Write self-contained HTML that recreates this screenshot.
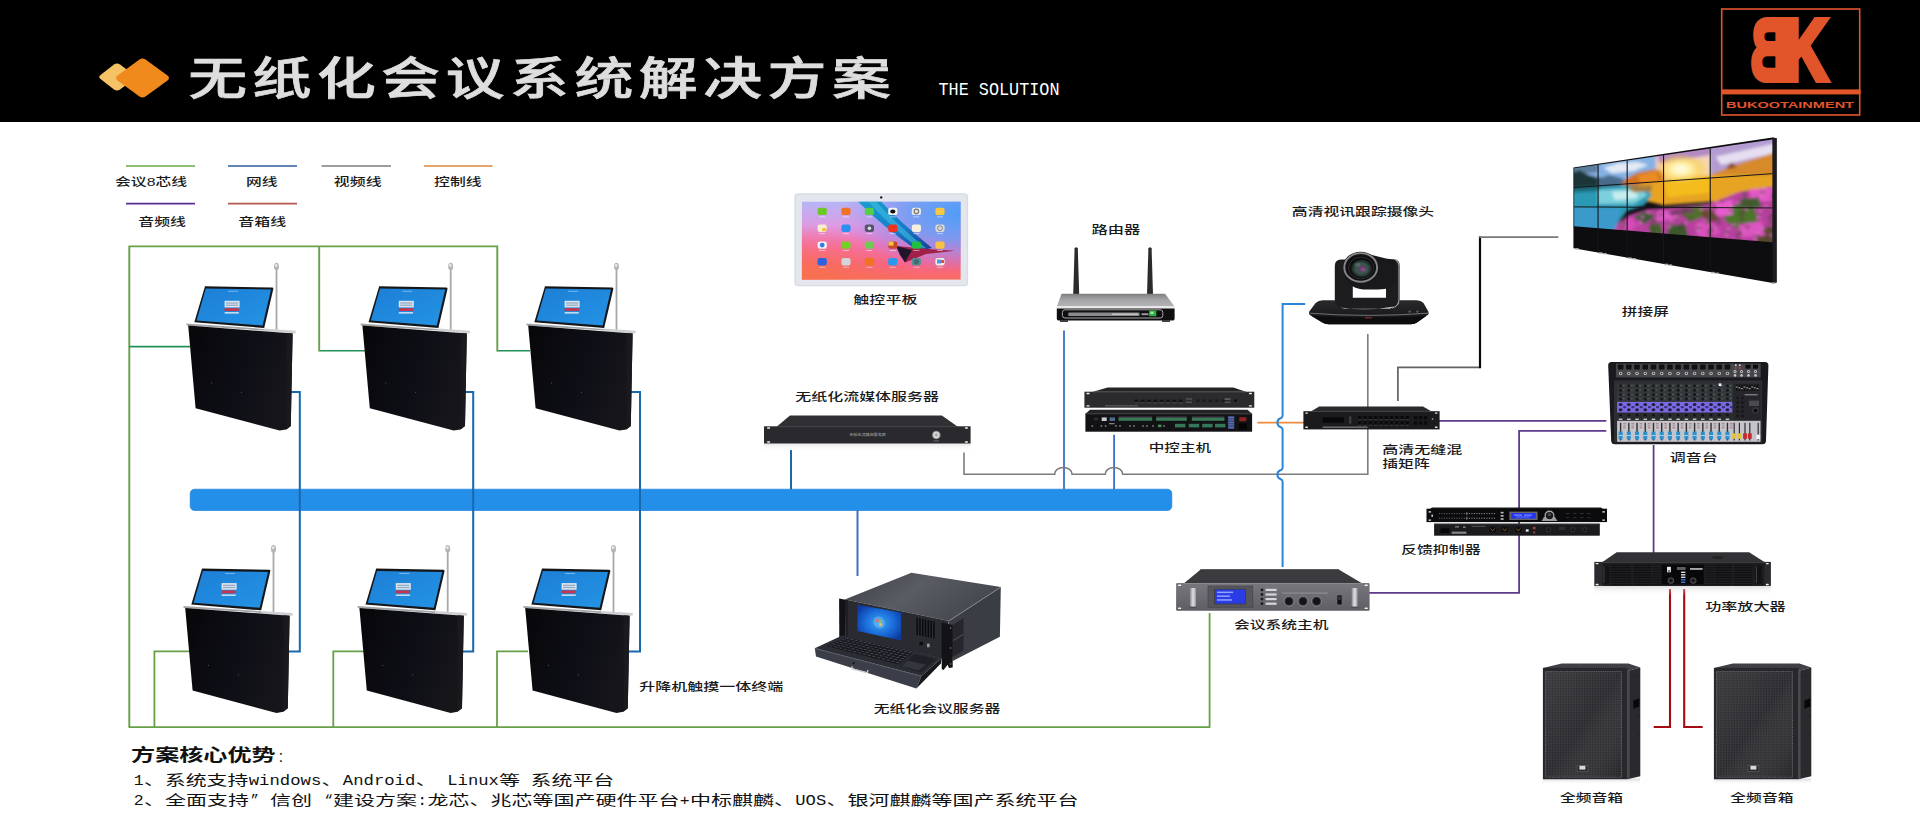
<!DOCTYPE html>
<html lang="zh-CN"><head><meta charset="utf-8"><title>无纸化会议系统解决方案</title>
<style>html,body{margin:0;padding:0;background:#fff}body{width:1920px;height:830px;overflow:hidden}svg{display:block}text{font-family:"Liberation Sans","Noto Sans CJK SC",sans-serif}</style></head><body>
<svg width="1920" height="830" viewBox="0 0 1920 830">
<defs><linearGradient id="tb" x1="0" y1="0" x2="1" y2="0.3"><stop offset="0" stop-color="#07070a"/><stop offset="0.6" stop-color="#0e0f16"/><stop offset="1" stop-color="#15151a"/></linearGradient><linearGradient id="ts" x1="0" y1="0" x2="1" y2="1"><stop offset="0" stop-color="#1c7fd6"/><stop offset="1" stop-color="#2493e4"/></linearGradient><g id="term"><rect x="275.6" y="268" width="1.8" height="62.5" fill="#a9a9a9"/><ellipse cx="276.5" cy="266.6" rx="2.5" ry="3.8" fill="#b4b4b4"/><ellipse cx="276.2" cy="265.4" rx="1.3" ry="1.6" fill="#e6e6e6"/><path d="M205 286.3L272.2 287.5Q273.6 287.6 273.3 289L264.2 328L194.3 322.3Z" fill="#14161a"/><polygon points="205.8,288.6 271,289.6 262.6,325.4 196.6,320.4" fill="url(#ts)"/><rect x="224.6" y="300.8" width="15" height="6.6" fill="#dfe6ee"/><rect x="226" y="302.4" width="12.2" height="1.2" fill="#8fa6c4"/><rect x="226" y="304.6" width="12.2" height="1.2" fill="#8fa6c4"/><rect x="224.6" y="308.2" width="14.2" height="2.8" fill="#c9354a"/><rect x="224.6" y="312.2" width="14.2" height="1.3" fill="#e8f0f8"/><rect x="228" y="290.8" width="10" height="0.9" fill="#7fbdf0"/><polygon points="186.4,323.6 264,328.9 264,330.6 186.6,325.6" fill="#a2a4a6"/><polygon points="264,328.6 295.8,330.8 295.6,333.4 264,331.2" fill="#cfd0d2"/><polygon points="188.2,325.6 292.6,333.4 290.8,426 286.3,429.4 279.5,430.6 195.6,408.2" fill="url(#tb)"/><polygon points="286.5,333 292.6,333.4 290.8,426 286.3,429.4" fill="#1a1a1e"/><circle cx="211.5" cy="383" r="0.6" fill="#555"/><circle cx="241.5" cy="392.5" r="0.6" fill="#555"/></g><linearGradient id="tbg" x1="0" y1="0" x2="0" y2="1"><stop offset="0" stop-color="#b4b6f6"/><stop offset="0.3" stop-color="#dc9ce4"/><stop offset="0.55" stop-color="#f472bc"/><stop offset="0.8" stop-color="#f8648a"/><stop offset="1" stop-color="#f76c5e"/></linearGradient><radialGradient id="tbr" cx="1" cy="0.15" r="0.75" gradientTransform="scale(1 1)"><stop offset="0" stop-color="#4f9cf6"/><stop offset="0.45" stop-color="#6c9cf4" stop-opacity="0.85"/><stop offset="1" stop-color="#9a8cf0" stop-opacity="0"/></radialGradient><radialGradient id="tbl" cx="0" cy="1" r="0.7"><stop offset="0" stop-color="#f8704c"/><stop offset="1" stop-color="#f8704c" stop-opacity="0"/></radialGradient><linearGradient id="tbrb" x1="0" y1="0" x2="1" y2="1"><stop offset="0" stop-color="#1aa0d0"/><stop offset="0.6" stop-color="#1878c8"/><stop offset="1" stop-color="#183a90"/></linearGradient><clipPath id="tcl"><rect x="801.7" y="201.4" width="159.1" height="78.4"/></clipPath><linearGradient id="rtop" x1="0" y1="0" x2="0" y2="1"><stop offset="0" stop-color="#7e7e80"/><stop offset="0.5" stop-color="#a6a6a8"/><stop offset="1" stop-color="#b4b4b6"/></linearGradient><linearGradient id="ssh" x1="0" y1="0" x2="0" y2="1"><stop offset="0" stop-color="#d4d4d6"/><stop offset="1" stop-color="#fff" stop-opacity="0"/></linearGradient><linearGradient id="cstop" x1="0" y1="0" x2="1" y2="0.4"><stop offset="0" stop-color="#3c3e44"/><stop offset="0.5" stop-color="#5a5c64"/><stop offset="1" stop-color="#45474e"/></linearGradient><radialGradient id="cssc" cx="0.5" cy="0.5" r="0.6"><stop offset="0" stop-color="#38a6f4"/><stop offset="0.6" stop-color="#1866d4"/><stop offset="1" stop-color="#0c3a9c"/></radialGradient><radialGradient id="lens" cx="0.5" cy="0.5" r="0.5"><stop offset="0" stop-color="#7a3a80"/><stop offset="0.3" stop-color="#4a4a5a"/><stop offset="0.55" stop-color="#34584a"/><stop offset="0.8" stop-color="#26302e"/><stop offset="1" stop-color="#0c0c0e"/></radialGradient><linearGradient id="cbase" x1="0" y1="0" x2="0" y2="1"><stop offset="0" stop-color="#2a2a2c"/><stop offset="1" stop-color="#111113"/></linearGradient><linearGradient id="hostf" x1="0" y1="0" x2="0" y2="1"><stop offset="0" stop-color="#77777d"/><stop offset="1" stop-color="#5e5e64"/></linearGradient><linearGradient id="hnd" x1="0" y1="0" x2="1" y2="0"><stop offset="0" stop-color="#8a8a90"/><stop offset="0.5" stop-color="#e0e0e4"/><stop offset="1" stop-color="#9a9aa0"/></linearGradient><linearGradient id="ash" x1="0" y1="0" x2="0" y2="1"><stop offset="0" stop-color="#c8c8cc"/><stop offset="1" stop-color="#fff" stop-opacity="0"/></linearGradient><pattern id="mesh" width="1.6" height="1.6" patternUnits="userSpaceOnUse"><rect width="1.6" height="1.6" fill="#37373b"/><rect width="0.8" height="0.8" fill="#232326"/></pattern><pattern id="grl" width="4" height="1.7" patternUnits="userSpaceOnUse"><rect width="4" height="1.7" fill="#0c0c0e"/><rect width="4" height="0.6" fill="#2a2a2e"/></pattern><filter id="bl" x="-5%" y="-10%" width="110%" height="120%"><feGaussianBlur stdDeviation="1.5"/></filter><pattern id="flw" width="29" height="22" patternUnits="userSpaceOnUse" patternTransform="rotate(8)"><ellipse cx="8.7" cy="3.0" rx="2.0" ry="0.9" fill="#f08adc"/><ellipse cx="2.5" cy="11.7" rx="2.4" ry="1.0" fill="#3c5a2c"/><ellipse cx="11.7" cy="1.4" rx="1.1" ry="1.2" fill="#a83a8c"/><ellipse cx="15.3" cy="18.9" rx="1.9" ry="1.4" fill="#3c5a2c"/><ellipse cx="15.6" cy="7.9" rx="2.5" ry="0.8" fill="#a83a8c"/><ellipse cx="3.6" cy="8.4" rx="1.8" ry="1.4" fill="#f08adc"/><ellipse cx="22.0" cy="3.6" rx="1.9" ry="1.4" fill="#5a3a3c"/><ellipse cx="2.6" cy="14.2" rx="1.8" ry="1.4" fill="#ee7ad8"/><ellipse cx="18.4" cy="8.6" rx="1.5" ry="1.4" fill="#ee7ad8"/><ellipse cx="9.8" cy="5.0" rx="1.3" ry="1.6" fill="#3c5a2c"/><ellipse cx="15.5" cy="10.5" rx="2.3" ry="1.5" fill="#5a3a3c"/><ellipse cx="16.4" cy="1.5" rx="1.8" ry="1.0" fill="#5a3a3c"/><ellipse cx="4.1" cy="9.8" rx="1.1" ry="1.5" fill="#a83a8c"/><ellipse cx="15.1" cy="15.8" rx="2.2" ry="1.1" fill="#5a3a3c"/><ellipse cx="16.0" cy="11.6" rx="1.7" ry="1.6" fill="#5a3a3c"/><ellipse cx="12.8" cy="13.3" rx="1.1" ry="1.5" fill="#2f4a2c"/></pattern><radialGradient id="sung"><stop offset="0" stop-color="#fffdf0"/><stop offset="0.35" stop-color="#fff3b0"/><stop offset="0.7" stop-color="#fbd560" stop-opacity="0.7"/><stop offset="1" stop-color="#f4bc1e" stop-opacity="0"/></radialGradient><clipPath id="vwc"><polygon points="1574.2,168.2 1772.4,139.4 1772.4,242.2 1574.2,226.2"/></clipPath><linearGradient id="spkg" x1="0" y1="0" x2="1" y2="1"><stop offset="0" stop-color="#fff" stop-opacity="0.07"/><stop offset="0.5" stop-color="#fff" stop-opacity="0"/><stop offset="1" stop-color="#000" stop-opacity="0.18"/></linearGradient><g id="spk"><rect x="1542.9" y="778.6" width="97" height="6" fill="url(#ash)" opacity="0.7"/><polygon points="1542.9,667.9 1561.8,663.5 1628.4,663.5 1640.3,667.5 1627.4,670.9" fill="#3f3f44"/><polygon points="1627.4,670.9 1640.3,667.5 1640.3,776.2 1627.4,779.2" fill="#2a2a2e"/><polygon points="1627.4,670.9 1629.6,670.3 1629.6,778.7 1627.4,779.2" fill="#4a4a50"/><polygon points="1633.4,700.6 1639.3,698.2 1639.3,706.4 1633.4,708.8" fill="#08080a"/><circle cx="1634.6" cy="676" r="0.6" fill="#111"/><circle cx="1638.6" cy="716" r="0.6" fill="#111"/><circle cx="1638.6" cy="734" r="0.6" fill="#111"/><circle cx="1634.6" cy="772" r="0.6" fill="#111"/><rect x="1542.9" y="667.9" width="84.5" height="111.3" fill="#28282c"/><rect x="1545.5" y="671.6" width="76" height="105.6" fill="url(#mesh)"/><rect x="1545.5" y="671.6" width="76" height="105.6" fill="url(#spkg)"/><rect x="1545.5" y="671.6" width="76" height="105.6" fill="none" stroke="#6e6e74" stroke-width="0.9" stroke-dasharray="1 0.8"/><rect x="1576.4" y="764.6" width="12.2" height="7.8" fill="#2a2a2e"/><rect x="1577" y="765.2" width="11" height="6.6" fill="none" stroke="#6a6a70" stroke-width="0.6"/><rect x="1579.4" y="765.8" width="6" height="3.8" fill="#d8d8dc"/></g></defs>
<rect x="0" y="0" width="1920" height="830" fill="#fff"/>
<rect x="0" y="0" width="1920" height="122" fill="#000"/>
<path d="M100.5 75 L114 64.5 Q117 62.5 120 64.5 L134 75 Q136.5 77 134 79 L120 89.5 Q117 91.5 114 89.5 L100.5 79 Q98 77 100.5 75Z" fill="#f6c266"/>
<path d="M117.5 75.5 L139.5 59.5 Q142.5 57.5 145.5 59.5 L167.5 75.5 Q170.5 78 167.5 80.5 L145.5 96.5 Q142.5 98.5 139.5 96.5 L117.5 80.5 Q114.5 78 117.5 75.5Z" fill="#f08a1c"/>
<text transform="translate(188.2 95.4) scale(1.29 1)" x="0" y="0" font-size="45.6" font-weight="500" fill="#dedede" stroke="#dedede" stroke-width="0.7" textLength="544.65" lengthAdjust="spacing">无纸化会议系统解决方案</text>
<text x="938.5" y="94.8" font-size="17.9" fill="#fff" style="font-family:'Liberation Mono',monospace" textLength="121" lengthAdjust="spacingAndGlyphs">THE SOLUTION</text>
<rect x="1721.7" y="9" width="138" height="106" fill="none" stroke="#e2552b" stroke-width="1.6"/>
<rect x="1721" y="89.4" width="139.5" height="5" fill="#e2552b"/>
<text x="1726" y="108.2" font-size="9.6" font-weight="700" fill="#e2552b" style="font-family:'Liberation Sans',sans-serif" textLength="128" lengthAdjust="spacingAndGlyphs">BUKOOTAINMENT</text>
<text transform="translate(1788 79.5) scale(-0.595 1)" x="0" y="0" style="font-family:'Liberation Sans',sans-serif" font-size="87.3" font-weight="700" fill="#e2552b" stroke="#e2552b" stroke-width="6" stroke-linejoin="miter">B</text>
<text transform="translate(1783.8 79.5) scale(0.70 1)" x="0" y="0" style="font-family:'Liberation Sans',sans-serif" font-size="87.3" font-weight="700" fill="#e2552b" stroke="#e2552b" stroke-width="6" stroke-linejoin="miter">K</text>
<path d="M126 166H195" fill="none" stroke="#68a84a" stroke-width="1.7"/>
<path d="M228 166H297" fill="none" stroke="#2c5c9c" stroke-width="1.7"/>
<path d="M321.5 166H391" fill="none" stroke="#7c7c7c" stroke-width="1.7"/>
<path d="M424 166H492.5" fill="none" stroke="#d9843c" stroke-width="1.7"/>
<path d="M126 203.6H195" fill="none" stroke="#5c2c92" stroke-width="1.7"/>
<path d="M228 203.6H297" fill="none" stroke="#b8584e" stroke-width="1.7"/>
<text x="115.07" y="185.8" font-size="11.4" font-weight="500" fill="#1a1a1a" textLength="71.96" lengthAdjust="spacingAndGlyphs">会议8芯线</text>
<text x="245.97" y="185.8" font-size="11.4" font-weight="500" fill="#1a1a1a" textLength="31.46" lengthAdjust="spacingAndGlyphs">网线</text>
<text x="333.86" y="185.8" font-size="11.4" font-weight="500" fill="#1a1a1a" textLength="47.77" lengthAdjust="spacingAndGlyphs">视频线</text>
<text x="434.07" y="185.8" font-size="11.4" font-weight="500" fill="#1a1a1a" textLength="47.57" lengthAdjust="spacingAndGlyphs">控制线</text>
<text x="138.37" y="225.8" font-size="11.4" font-weight="500" fill="#1a1a1a" textLength="47.57" lengthAdjust="spacingAndGlyphs">音频线</text>
<text x="238.36" y="225.8" font-size="11.4" font-weight="500" fill="#1a1a1a" textLength="47.77" lengthAdjust="spacingAndGlyphs">音箱线</text>
<path d="M497.3 350.7H530" fill="none" stroke="#229058" stroke-width="1.6"/>
<path d="M319.2 350.7H365" fill="none" stroke="#229058" stroke-width="1.6"/>
<path d="M129.3 727.2V246.4H497.3V351.4" fill="none" stroke="#68a048" stroke-width="1.9"/>
<path d="M319.2 246.4V351.4" fill="none" stroke="#68a048" stroke-width="1.9"/>
<path d="M129.3 346.6H190" fill="none" stroke="#229058" stroke-width="1.6"/>
<path d="M128.6 727.2H1209.6V613" fill="none" stroke="#68a048" stroke-width="1.8"/>
<path d="M190 651.4H154.4V727.2" fill="none" stroke="#68a048" stroke-width="1.8"/>
<path d="M365 651.4H333.3V727.2" fill="none" stroke="#68a048" stroke-width="1.8"/>
<path d="M528 651.4H497V727.2" fill="none" stroke="#68a048" stroke-width="1.8"/>
<rect x="190.2" y="489.2" width="981.6" height="21.3" rx="4.4" fill="#238fe8" stroke="#1c82d8" stroke-width="0.7"/>
<path d="M290 392H299.8V651.4H288" fill="none" stroke="#1868ae" stroke-width="2"/>
<path d="M464 392H473.2V651.4H462" fill="none" stroke="#1868ae" stroke-width="2"/>
<path d="M631 392H640V651.4H628" fill="none" stroke="#1868ae" stroke-width="2"/>
<path d="M791 450V489.5" fill="none" stroke="#1868ae" stroke-width="2"/>
<path d="M857.5 510V576" fill="none" stroke="#3a70c6" stroke-width="2"/>
<path d="M1064 330.5V489.5" fill="none" stroke="#3a70c6" stroke-width="1.8"/>
<path d="M1114.1 434.7V489.5" fill="none" stroke="#3a70c6" stroke-width="1.8"/>
<path d="M964 452.5V474.3H1054.6A8.75 6.8 0 0 1 1072.1 474.3H1105.2A8.75 6.8 0 0 1 1122.7 474.3H1367.8V334" fill="none" stroke="#7c7c7c" stroke-width="1.6"/>
<path d="M1397.9 401V367.4H1480.5" fill="none" stroke="#626262" stroke-width="1.7"/>
<path d="M1480 368.2V236.4" fill="none" stroke="#0a0a0a" stroke-width="2.2"/>
<path d="M1479.3 237.1H1558.3" fill="none" stroke="#777" stroke-width="1.6"/>
<path d="M1257.3 422.6H1304" fill="none" stroke="#ee8a3e" stroke-width="1.6"/>
<path d="M1305.2 303.9H1282.6V415.8Q1282.6 417.5 1280.5 418.3A4.6 4.6 0 0 0 1280.5 427Q1282.6 427.8 1282.6 429.5V467.8Q1282.6 469.5 1280.5 470.3A4.6 4.6 0 0 0 1280.5 479Q1282.6 479.8 1282.6 481.5V567" fill="none" stroke="#2a86da" stroke-width="2"/>
<path d="M1439 420.9H1606.3" fill="none" stroke="#5f3a8c" stroke-width="1.8"/>
<path d="M1606.3 430.8H1519.1V592.8H1369" fill="none" stroke="#5f3a8c" stroke-width="1.8"/>
<path d="M1653.6 445V553" fill="none" stroke="#5f3a8c" stroke-width="1.8"/>
<path d="M1670 589V727H1653.7" fill="none" stroke="#a40c12" stroke-width="2.1"/>
<path d="M1684.2 589V727H1702.7" fill="none" stroke="#a40c12" stroke-width="2.1"/>
<use href="#term" x="0" y="0"/>
<use href="#term" x="174.2" y="0"/>
<use href="#term" x="340" y="0"/>
<use href="#term" x="-3" y="282.3"/>
<use href="#term" x="171.2" y="282.3"/>
<use href="#term" x="337" y="282.3"/>
<rect x="794.4" y="193.3" width="173.8" height="93" rx="3.2" fill="#e3e7ed"/><rect x="795.2" y="194" width="172.2" height="91.6" rx="2.8" fill="none" stroke="#d2d7df" stroke-width="0.8"/><circle cx="881.2" cy="197.4" r="1.2" fill="#1a1a1a"/><g clip-path="url(#tcl)"><rect x="801.7" y="201.4" width="159.1" height="78.4" fill="url(#tbg)"/><rect x="801.7" y="201.4" width="159.1" height="78.4" fill="url(#tbr)"/><rect x="801.7" y="201.4" width="159.1" height="78.4" fill="url(#tbl)"/><path d="M858 201.4L881 201.4Q900 222 932 248L918 251Q882 226 858 201.4Z" fill="url(#tbrb)"/><path d="M868 201.4L876 201.4Q896 224 926 248L920 249.5Q890 226 868 201.4Z" fill="#3cc0e0" opacity="0.6"/><path d="M896 246L934 249.5L955 250.8L926 254L905 262.5L902 253Z" fill="#a02048"/><path d="M896 246L912 250L905 262.5L900 255Z" fill="#20152c"/><rect x="817.6" y="207.7" width="9.2" height="7.4" rx="2.2" fill="#6cc822"/><rect x="819.2" y="216.4" width="6" height="0.9" fill="#fff" opacity="0.55"/><rect x="841.4" y="207.7" width="9.2" height="7.4" rx="2.2" fill="#f07222"/><rect x="843" y="216.4" width="6" height="0.9" fill="#fff" opacity="0.55"/><rect x="864.8" y="207.7" width="9.2" height="7.4" rx="2.2" fill="#52d044"/><rect x="866.4" y="216.4" width="6" height="0.9" fill="#fff" opacity="0.55"/><rect x="888.2" y="207.7" width="9.2" height="7.4" rx="2.2" fill="#f4f4f6"/><rect x="889.8" y="216.4" width="6" height="0.9" fill="#fff" opacity="0.55"/><rect x="911.8" y="207.7" width="9.2" height="7.4" rx="2.2" fill="#e8e8ec"/><rect x="913.4" y="216.4" width="6" height="0.9" fill="#fff" opacity="0.55"/><rect x="935.4" y="207.7" width="9.2" height="7.4" rx="2.2" fill="#f8c840"/><rect x="937" y="216.4" width="6" height="0.9" fill="#fff" opacity="0.55"/><rect x="817.6" y="224.5" width="9.2" height="7.4" rx="2.2" fill="#f6ecd0"/><rect x="819.2" y="233.2" width="6" height="0.9" fill="#fff" opacity="0.55"/><rect x="841.4" y="224.5" width="9.2" height="7.4" rx="2.2" fill="#2a90f0"/><rect x="843" y="233.2" width="6" height="0.9" fill="#fff" opacity="0.55"/><rect x="864.8" y="224.5" width="9.2" height="7.4" rx="2.2" fill="#54546c"/><rect x="866.4" y="233.2" width="6" height="0.9" fill="#fff" opacity="0.55"/><rect x="888.2" y="224.5" width="9.2" height="7.4" rx="2.2" fill="#f0321e"/><rect x="889.8" y="233.2" width="6" height="0.9" fill="#fff" opacity="0.55"/><rect x="911.8" y="224.5" width="9.2" height="7.4" rx="2.2" fill="#f6f0e0"/><rect x="913.4" y="233.2" width="6" height="0.9" fill="#fff" opacity="0.55"/><rect x="935.4" y="224.5" width="9.2" height="7.4" rx="2.2" fill="#d8d8dc"/><rect x="937" y="233.2" width="6" height="0.9" fill="#fff" opacity="0.55"/><rect x="817.6" y="241.4" width="9.2" height="7.4" rx="2.2" fill="#eef2fa"/><rect x="819.2" y="250.1" width="6" height="0.9" fill="#fff" opacity="0.55"/><rect x="841.4" y="241.4" width="9.2" height="7.4" rx="2.2" fill="#72d222"/><rect x="843" y="250.1" width="6" height="0.9" fill="#fff" opacity="0.55"/><rect x="864.8" y="241.4" width="9.2" height="7.4" rx="2.2" fill="#6ccc50"/><rect x="866.4" y="250.1" width="6" height="0.9" fill="#fff" opacity="0.55"/><rect x="888.2" y="241.4" width="9.2" height="7.4" rx="2.2" fill="#c8482c"/><rect x="889.8" y="250.1" width="6" height="0.9" fill="#fff" opacity="0.55"/><rect x="911.8" y="241.4" width="9.2" height="7.4" rx="2.2" fill="#22c040"/><rect x="913.4" y="250.1" width="6" height="0.9" fill="#fff" opacity="0.55"/><rect x="935.4" y="241.4" width="9.2" height="7.4" rx="2.2" fill="#f8c244"/><rect x="937" y="250.1" width="6" height="0.9" fill="#fff" opacity="0.55"/><rect x="817.6" y="258.1" width="9.2" height="7.4" rx="2.2" fill="#2a62e0"/><rect x="819.2" y="266.8" width="6" height="0.9" fill="#fff" opacity="0.55"/><rect x="841.4" y="258.1" width="9.2" height="7.4" rx="2.2" fill="#d4d4d8"/><rect x="843" y="266.8" width="6" height="0.9" fill="#fff" opacity="0.55"/><rect x="864.8" y="258.1" width="9.2" height="7.4" rx="2.2" fill="#f0741e"/><rect x="866.4" y="266.8" width="6" height="0.9" fill="#fff" opacity="0.55"/><rect x="888.2" y="258.1" width="9.2" height="7.4" rx="2.2" fill="#2a98f0"/><rect x="889.8" y="266.8" width="6" height="0.9" fill="#fff" opacity="0.55"/><rect x="911.8" y="258.1" width="9.2" height="7.4" rx="2.2" fill="#5a8a92"/><rect x="913.4" y="266.8" width="6" height="0.9" fill="#fff" opacity="0.55"/><rect x="935.4" y="258.1" width="9.2" height="7.4" rx="2.2" fill="#eef0e8"/><rect x="937" y="266.8" width="6" height="0.9" fill="#fff" opacity="0.55"/><ellipse cx="892.8" cy="211.4" rx="2.6" ry="2" fill="#111"/><circle cx="916.4" cy="211.4" r="2.2" fill="none" stroke="#777" stroke-width="1.2"/><circle cx="869.4" cy="228.2" r="1.8" fill="#ddd"/><circle cx="940" cy="228.2" r="2.4" fill="none" stroke="#888" stroke-width="1"/><circle cx="822.2" cy="245.1" r="2.4" fill="#3a7ae8"/><rect x="822.2" y="228.2" width="4" height="3" fill="#f8c030"/><rect x="888.5" y="241.6" width="5" height="4" fill="#f0c848"/><circle cx="916.4" cy="261.8" r="2.6" fill="#3e6c74"/><rect x="937" y="259.5" width="4" height="4" fill="#4a9ae8"/><rect x="941" y="260" width="3" height="3" fill="#e84a3a"/></g>
<polygon points="1074.6,248.5 1077.8,248.5 1079.2,294.5 1073.2,294.5" fill="#2b2b2d"/><circle cx="1076.2" cy="248.8" r="1.6" fill="#2b2b2d"/><polygon points="1148.4,248.5 1151.6,248.5 1153,294.5 1147,294.5" fill="#2b2b2d"/><circle cx="1150" cy="248.8" r="1.6" fill="#2b2b2d"/><polygon points="1061.6,293.8 1165,293.8 1174.6,306.4 1056.8,306.4" fill="url(#rtop)"/><rect x="1056.8" y="306.2" width="117.8" height="2.4" fill="#e9e9ea"/><path d="M1056.8 308.4H1174.6V318.4Q1174.6 320.6 1172.4 320.6H1059Q1056.8 320.6 1056.8 318.4Z" fill="#0f0f11"/><rect x="1060" y="320.4" width="8" height="1.4" fill="#111"/><rect x="1162" y="320.4" width="8" height="1.4" fill="#111"/><rect x="1062.4" y="309.8" width="100.4" height="8.2" rx="2.6" fill="none" stroke="#b8b8b8" stroke-width="0.9"/><rect x="1068.2" y="312.6" width="71.5" height="3.3" rx="1.2" fill="#8a8a8c"/><rect x="1112" y="313.4" width="26" height="1.6" fill="#bdbdbd"/><rect x="1141.5" y="313.2" width="7" height="2" fill="#9a9a9a"/><rect x="1149.1" y="310.6" width="7.2" height="5.6" fill="#2fb044"/><rect x="1150.5" y="311.6" width="3" height="2.4" fill="#9af0a0"/>
<rect x="764" y="443.3" width="206.6" height="8.5" fill="url(#ssh)" opacity="0.55"/><polygon points="790,415.6 941.9,415.6 957.5,426.5 776.9,426.5" fill="#303034"/><rect x="764" y="426.3" width="206.6" height="17.2" fill="#2a2a2e"/><rect x="777" y="426.3" width="180.5" height="0.9" fill="#3e3e44"/><rect x="767" y="427.3" width="3.2" height="1.5" rx="0.7" fill="#f0f0f0"/><rect x="767" y="441.2" width="3.2" height="1.5" rx="0.7" fill="#f0f0f0"/><rect x="964.8" y="427.3" width="3.2" height="1.5" rx="0.7" fill="#f0f0f0"/><rect x="964.8" y="441.2" width="3.2" height="1.5" rx="0.7" fill="#f0f0f0"/><text x="849.24" y="436.36" font-size="3.6" font-weight="400" fill="#b4b4b8" textLength="36.52" lengthAdjust="spacingAndGlyphs">无纸化流媒体服务器</text><circle cx="936.3" cy="435" r="4.3" fill="#8e8e90"/><circle cx="936.3" cy="435" r="3.2" fill="#d8d8da"/><circle cx="936.3" cy="435" r="1.4" fill="#a4a4a8"/><rect x="933.5" y="440.5" width="5.6" height="0.8" fill="#777"/>
<polygon points="1107.7,387.4 1233.3,387.4 1246,391.8 1093,391.8" fill="#242426"/><rect x="1084.4" y="391.7" width="169.9" height="16" fill="#2b2b2d"/><rect x="1093" y="391.7" width="153" height="0.8" fill="#48484c"/><rect x="1086.4" y="392.8" width="3.2" height="1.4" rx="0.7" fill="#f2f2f2"/><rect x="1086.4" y="405.2" width="3.2" height="1.4" rx="0.7" fill="#f2f2f2"/><rect x="1248.8" y="392.8" width="3.2" height="1.4" rx="0.7" fill="#f2f2f2"/><rect x="1248.8" y="405.2" width="3.2" height="1.4" rx="0.7" fill="#f2f2f2"/><rect x="1134.4" y="399.6" width="4.2" height="2.2" fill="#121214"/><rect x="1134.4" y="402.6" width="4.2" height="0.8" fill="#4c4c50"/><rect x="1140.7" y="399.6" width="4.2" height="2.2" fill="#121214"/><rect x="1140.7" y="402.6" width="4.2" height="0.8" fill="#4c4c50"/><rect x="1147" y="399.6" width="4.2" height="2.2" fill="#121214"/><rect x="1147" y="402.6" width="4.2" height="0.8" fill="#4c4c50"/><rect x="1153.3" y="399.6" width="4.2" height="2.2" fill="#121214"/><rect x="1153.3" y="402.6" width="4.2" height="0.8" fill="#4c4c50"/><rect x="1159.6" y="399.6" width="4.2" height="2.2" fill="#121214"/><rect x="1159.6" y="402.6" width="4.2" height="0.8" fill="#4c4c50"/><rect x="1165.9" y="399.6" width="4.2" height="2.2" fill="#121214"/><rect x="1165.9" y="402.6" width="4.2" height="0.8" fill="#4c4c50"/><rect x="1172.2" y="399.6" width="4.2" height="2.2" fill="#121214"/><rect x="1172.2" y="402.6" width="4.2" height="0.8" fill="#4c4c50"/><rect x="1178.5" y="399.6" width="4.2" height="2.2" fill="#121214"/><rect x="1178.5" y="402.6" width="4.2" height="0.8" fill="#4c4c50"/><rect x="1186" y="398.4" width="6" height="1.2" fill="#5a5a5e"/><rect x="1186" y="401.6" width="6" height="1.2" fill="#5a5a5e"/><rect x="1196" y="399.6" width="3.6" height="2.2" fill="#1a1a1c"/><rect x="1202.4" y="399.6" width="3.6" height="2.2" fill="#1a1a1c"/><rect x="1208.8" y="399.6" width="3.6" height="2.2" fill="#1a1a1c"/><rect x="1215.2" y="399.6" width="3.6" height="2.2" fill="#1a1a1c"/><rect x="1221.6" y="399.6" width="3.6" height="2.2" fill="#1a1a1c"/><rect x="1224.5" y="398.4" width="6" height="1.4" fill="#6a6a6e"/><rect x="1224.5" y="401.6" width="6" height="1.4" fill="#555"/><circle cx="1235.5" cy="400.6" r="1.4" fill="#0a0a0a"/><rect x="1105" y="405.4" width="33" height="0.9" fill="#6a6a6e"/><polygon points="1090,409.7 1247.5,409.7 1252.1,413.8 1085.4,413.8" fill="#232325"/><rect x="1085.4" y="413.6" width="166.7" height="18.1" fill="#121214"/><rect x="1085.4" y="413.6" width="166.7" height="0.8" fill="#3a3a3e"/><rect x="1118.5" y="416.6" width="33.7" height="1.2" fill="#50505a"/><rect x="1118.5" y="418" width="33.7" height="2.8" fill="#367a56"/><rect x="1156.1" y="416.6" width="30.7" height="1.2" fill="#50505a"/><rect x="1156.1" y="418" width="30.7" height="2.8" fill="#367a56"/><rect x="1191.8" y="416.6" width="32.6" height="1.2" fill="#50505a"/><rect x="1191.8" y="418" width="32.6" height="2.8" fill="#367a56"/><rect x="1175" y="423.8" width="10.4" height="3.6" fill="#34785a"/><rect x="1188.8" y="423.8" width="10.4" height="3.6" fill="#34785a"/><rect x="1202.2" y="423.8" width="10.4" height="3.6" fill="#34785a"/><rect x="1215" y="423.8" width="10.4" height="3.6" fill="#34785a"/><rect x="1158" y="424.6" width="3.4" height="2.6" fill="#2f9a4c"/><rect x="1227.9" y="416" width="6.4" height="13" fill="#3c4c84"/><rect x="1228.6" y="417" width="5" height="0.8" fill="#6c7cb4"/><rect x="1228.6" y="419.5" width="5" height="0.8" fill="#6c7cb4"/><rect x="1228.6" y="422" width="5" height="0.8" fill="#6c7cb4"/><rect x="1228.6" y="424.5" width="5" height="0.8" fill="#6c7cb4"/><rect x="1228.6" y="427" width="5" height="0.8" fill="#6c7cb4"/><rect x="1239.3" y="417.1" width="7" height="4.2" fill="#8c2222"/><rect x="1239" y="423.4" width="8" height="6" fill="#050506"/><rect x="1101.7" y="417.4" width="5" height="3.6" fill="#c8ccd0"/><rect x="1109.6" y="417.4" width="5.4" height="3.6" fill="#4c6c8c"/><rect x="1094" y="417.8" width="4" height="2.6" fill="#2c2c30"/><circle cx="1092.3" cy="426" r="0.9" fill="#7a7a80"/><circle cx="1101.4" cy="426" r="0.9" fill="#7a7a80"/><circle cx="1105.6" cy="426" r="0.9" fill="#7a7a80"/><circle cx="1116" cy="426" r="0.9" fill="#7a7a80"/><circle cx="1120" cy="426" r="0.9" fill="#7a7a80"/><circle cx="1130" cy="426" r="0.9" fill="#7a7a80"/><circle cx="1134" cy="426" r="0.9" fill="#7a7a80"/><circle cx="1143" cy="426" r="0.9" fill="#7a7a80"/><circle cx="1147" cy="426" r="0.9" fill="#7a7a80"/><circle cx="1153" cy="426" r="0.9" fill="#7a7a80"/><circle cx="1160" cy="426" r="0.9" fill="#7a7a80"/><circle cx="1164" cy="426" r="0.9" fill="#7a7a80"/><rect x="1109" y="423.2" width="5.6" height="1" fill="#9a9aa0"/>
<polygon points="948.5,621.1 1000.8,587 999.9,636.8 952.7,661" fill="#3b3d44"/><polygon points="952.7,625 963.5,618 963.5,650.5 952.7,657" fill="#26272c"/><polygon points="952.7,640 963.5,633.5 963.5,635 952.7,641.5" fill="#44464e"/><polygon points="844.7,599.6 911.4,572.7 1000.8,587 948.5,621.1" fill="url(#cstop)"/><path d="M844.7 599.8L948.5 621.3L1000.8 587.2" fill="none" stroke="#8a8c94" stroke-width="0.8"/><polygon points="844.7,599.6 948.5,621.1 948.5,660 845.6,637" fill="#292b31"/><polygon points="839.1,598.6 845.4,599.8 845.6,638.6 839.3,637" fill="#121216"/><polygon points="845.4,599.8 848,600.4 848,636 845.6,637" fill="#1e1f24"/><polygon points="857.4,604.7 901.2,612.6 901.2,640.6 857.4,630.9" fill="url(#cssc)"/><g transform="translate(879 622.6) skewY(10)"><rect x="-3" y="-3" width="2.7" height="2.7" fill="#f25022"/><rect x="0.3" y="-3" width="2.7" height="2.7" fill="#7fba00"/><rect x="-3" y="0.3" width="2.7" height="2.7" fill="#2aa4f0"/><rect x="0.3" y="0.3" width="2.7" height="2.7" fill="#ffb900"/><circle cx="0" cy="0" r="6" fill="#bfe4ff" opacity="0.25"/></g><polygon points="916.4,617.6 917.9,617.9 917.9,635.2 916.4,634.9" fill="#0b0b0d"/><polygon points="919.2,618.18 920.7,618.48 920.7,635.78 919.2,635.48" fill="#0b0b0d"/><polygon points="922,618.76 923.5,619.06 923.5,636.36 922,636.06" fill="#0b0b0d"/><polygon points="924.8,619.34 926.3,619.64 926.3,636.94 924.8,636.64" fill="#0b0b0d"/><polygon points="927.6,619.92 929.1,620.22 929.1,637.52 927.6,637.22" fill="#0b0b0d"/><polygon points="930.4,620.5 931.9,620.8 931.9,638.1 930.4,637.8" fill="#0b0b0d"/><polygon points="933.2,621.08 934.7,621.38 934.7,638.68 933.2,638.38" fill="#0b0b0d"/><rect x="919.5" y="641.8" width="3.4" height="3.4" fill="#0c0c0e"/><rect x="927" y="643.6" width="2.6" height="3.6" fill="#9a9aa0"/><polygon points="941.7,622.6 952.7,625 952.7,667.4 949,668 947.6,664.8 943.6,670 941.7,669" fill="#131317"/><circle cx="950.6" cy="628" r="0.7" fill="#888"/><circle cx="950.6" cy="648" r="0.7" fill="#888"/><circle cx="950.6" cy="664" r="0.7" fill="#888"/><polygon points="814.8,648.2 842.2,635.6 941.7,657.9 921.5,676.1" fill="#2b2d35"/><polygon points="826.5,646 846.5,637.4 913,652.4 899,664.4" fill="#15161a"/><polygon points="846.63,637.69 849.74,638.4 848.1,639.13 844.97,638.41" fill="#41434c"/><polygon points="851.07,638.7 854.18,639.4 852.58,640.15 849.44,639.43" fill="#41434c"/><polygon points="855.52,639.7 858.62,640.4 857.05,641.17 853.92,640.46" fill="#41434c"/><polygon points="859.96,640.71 863.07,641.41 861.53,642.2 858.39,641.48" fill="#41434c"/><polygon points="864.4,641.71 867.51,642.41 866,643.22 862.87,642.51" fill="#41434c"/><polygon points="868.84,642.72 871.95,643.42 870.48,644.24 867.34,643.53" fill="#41434c"/><polygon points="873.28,643.72 876.39,644.42 874.95,645.27 871.82,644.55" fill="#41434c"/><polygon points="877.72,644.72 880.83,645.43 879.43,646.29 876.29,645.58" fill="#41434c"/><polygon points="882.16,645.73 885.27,646.43 883.9,647.32 880.77,646.6" fill="#41434c"/><polygon points="886.6,646.73 889.71,647.44 888.37,648.34 885.24,647.62" fill="#41434c"/><polygon points="891.05,647.74 894.16,648.44 892.85,649.36 889.72,648.65" fill="#41434c"/><polygon points="895.49,648.74 898.6,649.45 897.32,650.39 894.19,649.67" fill="#41434c"/><polygon points="899.93,649.75 903.04,650.45 901.8,651.41 898.67,650.69" fill="#41434c"/><polygon points="904.37,650.75 907.48,651.45 906.27,652.43 903.14,651.72" fill="#41434c"/><polygon points="908.81,651.76 911.92,652.46 910.75,653.46 907.62,652.74" fill="#41434c"/><polygon points="843.31,639.13 846.46,639.86 844.82,640.59 841.64,639.85" fill="#41434c"/><polygon points="847.82,640.17 850.97,640.9 849.37,641.65 846.19,640.91" fill="#41434c"/><polygon points="852.32,641.22 855.48,641.94 853.91,642.71 850.73,641.97" fill="#41434c"/><polygon points="856.83,642.26 859.99,642.99 858.45,643.78 855.27,643.03" fill="#41434c"/><polygon points="861.34,643.3 864.5,644.03 862.99,644.84 859.81,644.09" fill="#41434c"/><polygon points="865.85,644.34 869,645.07 867.53,645.9 864.35,645.16" fill="#41434c"/><polygon points="870.36,645.38 873.51,646.11 872.07,646.96 868.89,646.22" fill="#41434c"/><polygon points="874.86,646.43 878.02,647.16 876.61,648.02 873.43,647.28" fill="#41434c"/><polygon points="879.37,647.47 882.53,648.2 881.15,649.08 877.98,648.34" fill="#41434c"/><polygon points="883.88,648.51 887.04,649.24 885.7,650.14 882.52,649.4" fill="#41434c"/><polygon points="888.39,649.55 891.54,650.28 890.24,651.2 887.06,650.46" fill="#41434c"/><polygon points="892.9,650.6 896.05,651.33 894.78,652.27 891.6,651.52" fill="#41434c"/><polygon points="897.4,651.64 900.56,652.37 899.32,653.33 896.14,652.58" fill="#41434c"/><polygon points="901.91,652.68 905.07,653.41 903.86,654.39 900.68,653.64" fill="#41434c"/><polygon points="906.42,653.72 909.58,654.45 908.4,655.45 905.22,654.71" fill="#41434c"/><polygon points="839.98,640.57 843.18,641.32 841.55,642.06 838.32,641.29" fill="#41434c"/><polygon points="844.56,641.65 847.76,642.4 846.15,643.16 842.93,642.39" fill="#41434c"/><polygon points="849.13,642.73 852.33,643.48 850.76,644.25 847.54,643.49" fill="#41434c"/><polygon points="853.71,643.81 856.91,644.56 855.37,645.35 852.14,644.58" fill="#41434c"/><polygon points="858.28,644.89 861.48,645.64 859.98,646.45 856.75,645.68" fill="#41434c"/><polygon points="862.86,645.97 866.06,646.72 864.59,647.55 861.36,646.78" fill="#41434c"/><polygon points="867.43,647.05 870.63,647.8 869.19,648.65 865.97,647.88" fill="#41434c"/><polygon points="872,648.13 875.21,648.88 873.8,649.75 870.58,648.98" fill="#41434c"/><polygon points="876.58,649.21 879.78,649.97 878.41,650.85 875.18,650.08" fill="#41434c"/><polygon points="881.15,650.29 884.36,651.05 883.02,651.95 879.79,651.18" fill="#41434c"/><polygon points="885.73,651.37 888.93,652.13 887.63,653.05 884.4,652.28" fill="#41434c"/><polygon points="890.3,652.45 893.51,653.21 892.23,654.15 889.01,653.38" fill="#41434c"/><polygon points="894.88,653.53 898.08,654.29 896.84,655.24 893.62,654.47" fill="#41434c"/><polygon points="899.45,654.61 902.66,655.37 901.45,656.34 898.22,655.57" fill="#41434c"/><polygon points="904.03,655.69 907.23,656.45 906.06,657.44 902.83,656.67" fill="#41434c"/><polygon points="836.66,642.01 839.91,642.79 838.27,643.52 834.99,642.73" fill="#41434c"/><polygon points="841.3,643.12 844.55,643.91 842.94,644.66 839.67,643.86" fill="#41434c"/><polygon points="845.94,644.24 849.19,645.02 847.62,645.79 844.34,645" fill="#41434c"/><polygon points="850.58,645.36 853.83,646.14 852.29,646.93 849.02,646.14" fill="#41434c"/><polygon points="855.22,646.48 858.47,647.26 856.97,648.07 853.69,647.27" fill="#41434c"/><polygon points="859.86,647.6 863.11,648.38 861.64,649.2 858.37,648.41" fill="#41434c"/><polygon points="864.5,648.71 867.75,649.5 866.31,650.34 863.04,649.55" fill="#41434c"/><polygon points="869.15,649.83 872.4,650.61 870.99,651.48 867.72,650.68" fill="#41434c"/><polygon points="873.79,650.95 877.04,651.73 875.66,652.61 872.39,651.82" fill="#41434c"/><polygon points="878.43,652.07 881.68,652.85 880.34,653.75 877.07,652.96" fill="#41434c"/><polygon points="883.07,653.18 886.32,653.97 885.01,654.89 881.74,654.09" fill="#41434c"/><polygon points="887.71,654.3 890.96,655.09 889.69,656.03 886.42,655.23" fill="#41434c"/><polygon points="892.35,655.42 895.6,656.2 894.36,657.16 891.09,656.37" fill="#41434c"/><polygon points="896.99,656.54 900.24,657.32 899.04,658.3 895.76,657.5" fill="#41434c"/><polygon points="901.64,657.66 904.88,658.44 903.71,659.44 900.44,658.64" fill="#41434c"/><polygon points="833.33,643.44 836.63,644.25 834.99,644.99 831.67,644.16" fill="#41434c"/><polygon points="838.04,644.6 841.34,645.41 839.73,646.16 836.41,645.34" fill="#41434c"/><polygon points="842.75,645.76 846.04,646.56 844.47,647.33 841.15,646.51" fill="#41434c"/><polygon points="847.46,646.91 850.75,647.72 849.21,648.51 845.89,647.69" fill="#41434c"/><polygon points="852.16,648.07 855.46,648.88 853.95,649.68 850.63,648.86" fill="#41434c"/><polygon points="856.87,649.22 860.17,650.03 858.69,650.86 855.38,650.04" fill="#41434c"/><polygon points="861.58,650.38 864.88,651.19 863.44,652.03 860.12,651.21" fill="#41434c"/><polygon points="866.29,651.53 869.58,652.34 868.18,653.21 864.86,652.38" fill="#41434c"/><polygon points="871,652.69 874.29,653.5 872.92,654.38 869.6,653.56" fill="#41434c"/><polygon points="875.7,653.84 879,654.65 877.66,655.56 874.34,654.73" fill="#41434c"/><polygon points="880.41,655 883.71,655.81 882.4,656.73 879.08,655.91" fill="#41434c"/><polygon points="885.12,656.16 888.42,656.97 887.14,657.9 883.82,657.08" fill="#41434c"/><polygon points="889.83,657.31 893.12,658.12 891.88,659.08 888.56,658.26" fill="#41434c"/><polygon points="894.54,658.47 897.83,659.28 896.63,660.25 893.31,659.43" fill="#41434c"/><polygon points="899.24,659.62 902.54,660.43 901.37,661.43 898.05,660.61" fill="#41434c"/><polygon points="830.01,644.88 833.35,645.72 831.71,646.45 828.34,645.6" fill="#41434c"/><polygon points="834.78,646.08 838.12,646.91 836.52,647.66 833.15,646.81" fill="#41434c"/><polygon points="839.56,647.27 842.9,648.1 841.33,648.87 837.96,648.03" fill="#41434c"/><polygon points="844.33,648.46 847.67,649.3 846.13,650.09 842.77,649.24" fill="#41434c"/><polygon points="849.1,649.66 852.45,650.49 850.94,651.3 847.58,650.45" fill="#41434c"/><polygon points="853.88,650.85 857.22,651.68 855.75,652.51 852.38,651.66" fill="#41434c"/><polygon points="858.65,652.04 862,652.88 860.56,653.72 857.19,652.87" fill="#41434c"/><polygon points="863.43,653.24 866.77,654.07 865.37,654.94 862,654.09" fill="#41434c"/><polygon points="868.2,654.43 871.55,655.26 870.17,656.15 866.81,655.3" fill="#41434c"/><polygon points="872.98,655.62 876.32,656.46 874.98,657.36 871.62,656.51" fill="#41434c"/><polygon points="877.75,656.82 881.1,657.65 879.79,658.57 876.42,657.72" fill="#41434c"/><polygon points="882.53,658.01 885.87,658.84 884.6,659.78 881.23,658.94" fill="#41434c"/><polygon points="887.3,659.2 890.64,660.04 889.41,661 886.04,660.15" fill="#41434c"/><polygon points="892.08,660.4 895.42,661.23 894.21,662.21 890.85,661.36" fill="#41434c"/><polygon points="896.85,661.59 900.19,662.43 899.02,663.42 895.66,662.57" fill="#41434c"/><polygon points="914.5,654 936.5,659 920.5,672.5 900.5,666" fill="#202127"/><polygon points="908,660.5 926,664.8 918.5,670.6 901.5,666" fill="#34363e"/><polygon points="814.8,648.2 921.5,676.1 916.4,688.4 816,656.4" fill="#3b3e49"/><path d="M814.8 648.4L921.5 676.3" fill="none" stroke="#5a5d6a" stroke-width="0.8"/><polygon points="921.5,676.1 941.7,657.9 940.9,663.4 916.4,688.4" fill="#17181c"/><path d="M852 666.2L852.4 669L867.4 672.6L868 669.8" fill="none" stroke="#c4c6cc" stroke-width="1.3"/><circle cx="853.6" cy="663.2" r="1.1" fill="#16161a"/>
<path d="M1322.7 300.2H1416.7Q1421 300.4 1423.5 303L1428.3 311.5Q1429.6 314.6 1426.5 315.8L1417 322.6Q1414.6 324.3 1411 324.3H1328.4Q1324.8 324.3 1322.4 322.6L1311.2 315.8Q1308 314.6 1309.3 311.5L1315.6 303Q1318.5 300.4 1322.7 300.2Z" fill="url(#cbase)"/><path d="M1309.6 313.2Q1368 317.6 1428 313.2" fill="none" stroke="#7c7c80" stroke-width="0.9"/><path d="M1311.2 315.8L1322.4 322.6Q1324.8 324.3 1328.4 324.3H1411Q1414.6 324.3 1417 322.6L1426.5 315.8Q1368 319.6 1311.2 315.8Z" fill="#0d0d0f"/><rect x="1365" y="317.2" width="7" height="1.2" fill="#8c2a34"/><circle cx="1409.6" cy="311.6" r="1.2" fill="#5c5c62"/><circle cx="1417.4" cy="311.6" r="1.2" fill="#5c5c62"/><path d="M1334.8 266Q1334.8 259.5 1341 259.5H1352.8V297.8H1386V262Q1386 259.3 1389 259.3H1393.5Q1399.8 259.5 1399.8 266V299Q1399.8 308.7 1390 308.7H1344.6Q1334.8 308.7 1334.8 299Z" fill="#1d1d20"/><path d="M1395.6 260Q1399 262 1399 267V299Q1399 306.5 1392 308" fill="none" stroke="#a4a4a8" stroke-width="1.1"/><path d="M1340 307.4Q1368 311.6 1394 306.6L1390 308.7H1344.6Z" fill="#c4c4c8"/><path d="M1345 262Q1347 252.5 1362 252.5L1386 258.6Q1394 259.4 1396 262V282Q1392 289.6 1378 289.6H1363Q1346 287 1345 275Z" fill="#19191b"/><ellipse cx="1360.7" cy="267.4" rx="17.8" ry="15.6" fill="#141416"/><ellipse cx="1360.7" cy="267.4" rx="16.4" ry="14.3" fill="none" stroke="#87878b" stroke-width="1.9"/><ellipse cx="1361.2" cy="268" rx="14" ry="12.2" fill="#0c0c0e"/><ellipse cx="1361.2" cy="268" rx="12.6" ry="10.9" fill="none" stroke="#3a3a3e" stroke-width="0.8"/><ellipse cx="1361.6" cy="268.6" rx="11.2" ry="9.6" fill="url(#lens)"/><ellipse cx="1363.5" cy="269.6" rx="2.6" ry="2.2" fill="#a04a90" opacity="0.6"/><ellipse cx="1357.5" cy="264.6" rx="3" ry="2" fill="#8ab0a0" opacity="0.25"/>
<polygon points="1573.4,167.4 1772.4,137.4 1776.6,138.2 1776.6,282.4 1772.8,283 1573.4,248.2" fill="#0d0d0f"/><polygon points="1772.6,137.6 1776.6,138.2 1776.6,282.4 1772.6,283" fill="#1c1c20"/><rect x="1575.2" y="248.1" width="3.4" height="1.6" fill="#b4b4b8"/><rect x="1599.05" y="252.26" width="3.4" height="1.6" fill="#b4b4b8"/><rect x="1603.55" y="252.96" width="3" height="1.5" fill="#b4b4b8"/><rect x="1628.18" y="257.35" width="3.4" height="1.6" fill="#b4b4b8"/><rect x="1632.68" y="258.05" width="3" height="1.5" fill="#b4b4b8"/><rect x="1664.54" y="263.69" width="3.4" height="1.6" fill="#b4b4b8"/><rect x="1669.04" y="264.39" width="3" height="1.5" fill="#b4b4b8"/><rect x="1711.24" y="271.84" width="3.4" height="1.6" fill="#b4b4b8"/><rect x="1715.74" y="272.54" width="3" height="1.5" fill="#b4b4b8"/><rect x="1771.9" y="282.43" width="3.4" height="1.6" fill="#b4b4b8"/><g clip-path="url(#vwc)"><g filter="url(#bl)"><polygon points="1568.9,163.29 1791.29,125.95 1791.29,190.19 1568.9,197.37" fill="#86b2e4"/><polygon points="1568.9,163.29 1598.05,158.4 1598.05,172.34 1568.9,174.65" fill="#5c7e9e"/><polygon points="1603.4,167.83 1617.78,163.22 1637.21,161.93 1647.96,164.95 1633.79,170.98 1611.85,173.37" fill="#e2eaf4"/><polygon points="1655.56,148.74 1710.24,139.56 1710.24,180.38 1655.56,183.88" fill="#eccacc"/><polygon points="1655.56,148.74 1710.24,139.56 1710.24,154.64 1659.51,163.53" fill="#b48ac2"/><polygon points="1663.54,164.6 1710.24,157.31 1710.24,175.06 1663.54,180.24" fill="#f6d8a8"/><polygon points="1710.24,139.56 1791.29,125.95 1791.29,158.07 1710.24,176.83" fill="#b49cd2"/><polygon points="1715.65,156.64 1791.29,139.87 1791.29,149.5 1721.22,165.08" fill="#e6def2"/><polygon points="1710.24,175.06 1732.86,165.8 1791.29,147.36 1791.29,181.62 1710.24,185.71" fill="#d68a2a"/><polygon points="1725.5,169.26 1731.37,162.2 1737.41,167.26" fill="#8a4a1c"/><polygon points="1568.9,173.51 1579.75,170.36 1587.96,174.76 1598.05,177.41 1611.85,178.69 1620.85,181.99 1620.85,186.78 1568.9,189.99" fill="#1d3538"/><polygon points="1598.05,178.68 1608.97,175 1620.85,177.87 1627.18,181.49 1627.18,184.29 1598.05,186.29" fill="#4a6c8c"/><polygon points="1620.85,184.04 1627.18,178 1637.21,172.77 1653.63,169.57 1663.54,170.86 1663.54,183.37 1627.18,187.09" fill="#d2721c"/><polygon points="1637.21,175.66 1655.56,170.89 1659.51,180.53 1640.71,183.37" fill="#ea8c28"/><polygon points="1637.21,185.05 1663.54,180.24 1710.24,175.06 1791.29,175.2 1791.29,205.18 1710.24,201.68 1663.54,205.26 1644.3,200.84" fill="#e6a422"/><polygon points="1663.54,180.24 1710.24,175.06 1710.24,192.81 1667.68,197.35" fill="#f4bc1e"/><polygon points="1568.9,188.85 1623.98,185.21 1644.3,186.08 1651.72,194.7 1644.3,205.27 1627.18,210.88 1617.78,222.93 1611.85,235.89 1568.9,231.45" fill="#2c9ab4"/><polygon points="1568.9,188.28 1600.7,186.11 1598.05,191.36 1568.9,192.83" fill="#1c6a78"/><polygon points="1598.05,190.09 1637.21,187.94 1647.96,194.82 1633.79,203.85 1598.05,204.04" fill="#7cd0dc"/><polygon points="1611.85,191.99 1637.21,190.83 1637.21,198.06 1614.78,199.92" fill="#c8eeee"/><polygon points="1627.18,187.09 1651.72,184.88 1651.72,190.92 1633.79,192.42" fill="#a87c3c"/><polygon points="1568.9,207.6 1620.85,208.03 1614.78,236.19 1568.9,231.45" fill="#3a9aca"/><polygon points="1611.85,235.89 1617.78,222.93 1630.45,214.48 1647.96,209.01 1667.68,207.63 1710.24,203.46 1738.95,191.88 1791.29,183.77 1791.29,254.43" fill="#b8409f"/><polygon points="1633.79,216.72 1644.3,211.18 1655.56,215.96 1644.3,224.47" fill="#3c5a30"/><polygon points="1676.29,210.12 1699.87,205.24 1710.24,214.11 1690.06,222.08" fill="#50702c"/><polygon points="1726.95,207.07 1751.69,201.28 1758.38,221.14 1738.95,229.98 1724.07,219.92" fill="#4c742a"/><polygon points="1667.68,225.83 1685.35,223.54 1690.06,243.97 1667.68,241.66" fill="#3a5a2c"/><polygon points="1758.38,227.12 1791.29,226.59 1791.29,254.43 1755.01,250.68" fill="#5a4a2c"/><polygon points="1655.56,211.38 1671.93,210.06 1676.29,218.23 1659.51,220.72" fill="#dc5cc4"/><polygon points="1710.24,203.46 1732.86,199.59 1732.86,214.6 1710.24,217.66" fill="#e65ccc"/><polygon points="1748.43,189.63 1791.29,185.91 1791.29,200.9 1751.69,201.28" fill="#e258c6"/><polygon points="1738.95,224.26 1761.8,221.26 1765.27,235.55 1738.95,237.59" fill="#dc54c0"/><polygon points="1694.9,224 1710.24,221.21 1721.22,232.59 1699.87,240.67" fill="#d850bc"/><polygon points="1620.85,223.11 1630.45,216.6 1637.21,225.51 1627.18,233.98" fill="#d64cb8"/><polygon points="1647.96,226.18 1659.51,222.27 1663.54,233.41 1651.72,236.23" fill="#44622c"/><polygon points="1699.87,212.15 1710.24,208.78 1721.22,219.82 1707.59,222.86" fill="#6a4a34"/><polygon points="1738.95,199.5 1758.38,197.23 1761.8,207.21 1742.06,209.05" fill="#3e5e2a"/><polygon points="1667.68,211.59 1690.06,207.77 1694.9,212.06 1671.93,215.67" fill="#7a3a6a"/><ellipse cx="1680.76" cy="169.13" rx="26" ry="15" fill="url(#sung)"/><polygon points="1611.85,235.89 1617.78,222.93 1630.45,214.48 1647.96,209.01 1667.68,207.63 1710.24,203.46 1738.95,191.88 1791.29,183.77 1791.29,254.43" fill="url(#flw)" opacity="0.8"/></g></g><path d="M1598.05 164.73V252.3" fill="none" stroke="#15151a" stroke-width="1.1"/><path d="M1627.18 160.5V257.39" fill="none" stroke="#15151a" stroke-width="1.1"/><path d="M1663.54 155.22V263.73" fill="none" stroke="#15151a" stroke-width="1.1"/><path d="M1710.24 148.43V271.88" fill="none" stroke="#15151a" stroke-width="1.1"/><path d="M1574.2 187.53L1772.4 173.67" fill="none" stroke="#15151a" stroke-width="1"/><path d="M1574.2 206.87L1772.4 207.93" fill="none" stroke="#15151a" stroke-width="1"/>
<polygon points="1319.2,406.4 1423,406.4 1431.7,411.4 1310.8,411.4" fill="#2a2a2d"/><rect x="1303.4" y="411.2" width="136.2" height="18.2" fill="#1b1b1e"/><rect x="1311" y="411.2" width="121" height="0.8" fill="#47474c"/><rect x="1305.2" y="412.4" width="2.8" height="1.4" rx="0.7" fill="#ededed"/><rect x="1305.2" y="426.6" width="2.8" height="1.4" rx="0.7" fill="#ededed"/><rect x="1434.8" y="412.4" width="2.8" height="1.4" rx="0.7" fill="#ededed"/><rect x="1434.8" y="426.6" width="2.8" height="1.4" rx="0.7" fill="#ededed"/><rect x="1322.6" y="417.4" width="21.4" height="5.2" fill="#08080a"/><rect x="1349" y="416.2" width="2.4" height="7.4" fill="#3c3c42"/><rect x="1358" y="416" width="3.4" height="3.4" fill="#0a0a0c"/><rect x="1358" y="419.4" width="3.4" height="0.7" fill="#4a4a50"/><rect x="1363.3" y="416" width="3.4" height="3.4" fill="#0a0a0c"/><rect x="1363.3" y="419.4" width="3.4" height="0.7" fill="#4a4a50"/><rect x="1368.6" y="416" width="3.4" height="3.4" fill="#0a0a0c"/><rect x="1368.6" y="419.4" width="3.4" height="0.7" fill="#4a4a50"/><rect x="1373.9" y="416" width="3.4" height="3.4" fill="#0a0a0c"/><rect x="1373.9" y="419.4" width="3.4" height="0.7" fill="#4a4a50"/><rect x="1379.2" y="416" width="3.4" height="3.4" fill="#0a0a0c"/><rect x="1379.2" y="419.4" width="3.4" height="0.7" fill="#4a4a50"/><rect x="1384.5" y="416" width="3.4" height="3.4" fill="#0a0a0c"/><rect x="1384.5" y="419.4" width="3.4" height="0.7" fill="#4a4a50"/><rect x="1389.8" y="416" width="3.4" height="3.4" fill="#0a0a0c"/><rect x="1389.8" y="419.4" width="3.4" height="0.7" fill="#4a4a50"/><rect x="1395.1" y="416" width="3.4" height="3.4" fill="#0a0a0c"/><rect x="1395.1" y="419.4" width="3.4" height="0.7" fill="#4a4a50"/><rect x="1400.4" y="416" width="3.4" height="3.4" fill="#0a0a0c"/><rect x="1400.4" y="419.4" width="3.4" height="0.7" fill="#4a4a50"/><rect x="1405.7" y="416" width="3.4" height="3.4" fill="#0a0a0c"/><rect x="1405.7" y="419.4" width="3.4" height="0.7" fill="#4a4a50"/><rect x="1358" y="421.4" width="3.4" height="3.4" fill="#0a0a0c"/><rect x="1358" y="424.8" width="3.4" height="0.7" fill="#4a4a50"/><rect x="1363.3" y="421.4" width="3.4" height="3.4" fill="#0a0a0c"/><rect x="1363.3" y="424.8" width="3.4" height="0.7" fill="#4a4a50"/><rect x="1368.6" y="421.4" width="3.4" height="3.4" fill="#0a0a0c"/><rect x="1368.6" y="424.8" width="3.4" height="0.7" fill="#4a4a50"/><rect x="1373.9" y="421.4" width="3.4" height="3.4" fill="#0a0a0c"/><rect x="1373.9" y="424.8" width="3.4" height="0.7" fill="#4a4a50"/><rect x="1379.2" y="421.4" width="3.4" height="3.4" fill="#0a0a0c"/><rect x="1379.2" y="424.8" width="3.4" height="0.7" fill="#4a4a50"/><rect x="1384.5" y="421.4" width="3.4" height="3.4" fill="#0a0a0c"/><rect x="1384.5" y="424.8" width="3.4" height="0.7" fill="#4a4a50"/><rect x="1389.8" y="421.4" width="3.4" height="3.4" fill="#0a0a0c"/><rect x="1389.8" y="424.8" width="3.4" height="0.7" fill="#4a4a50"/><rect x="1395.1" y="421.4" width="3.4" height="3.4" fill="#0a0a0c"/><rect x="1395.1" y="424.8" width="3.4" height="0.7" fill="#4a4a50"/><rect x="1400.4" y="421.4" width="3.4" height="3.4" fill="#0a0a0c"/><rect x="1400.4" y="424.8" width="3.4" height="0.7" fill="#4a4a50"/><rect x="1405.7" y="421.4" width="3.4" height="3.4" fill="#0a0a0c"/><rect x="1405.7" y="424.8" width="3.4" height="0.7" fill="#4a4a50"/><rect x="1414" y="416" width="3.2" height="3.4" fill="#0a0a0c"/><rect x="1419" y="416" width="3.2" height="3.4" fill="#0a0a0c"/><rect x="1424" y="416" width="3.2" height="3.4" fill="#0a0a0c"/><rect x="1414" y="421.4" width="3.2" height="3.4" fill="#0a0a0c"/><rect x="1419" y="421.4" width="3.2" height="3.4" fill="#0a0a0c"/><rect x="1424" y="421.4" width="3.2" height="3.4" fill="#0a0a0c"/><circle cx="1432.6" cy="419" r="0.9" fill="#888"/><rect x="1322.6" y="426.6" width="45" height="1.1" fill="#8a8a90"/>
<path d="M1611.6 362H1765Q1768.5 362 1768.4 365.5L1766 440.8Q1765.8 444.3 1762.3 444.3H1614.8Q1611.4 444.3 1611.2 440.8L1608.2 365.5Q1608.1 362 1611.6 362Z" fill="#1a1a1e"/><rect x="1615.9" y="363.6" width="144.8" height="13.8" fill="#46464b"/><rect x="1617.8" y="364.6" width="5.6" height="4.8" rx="1" fill="#111113"/><circle cx="1620.6" cy="373.4" r="1.7" fill="#c9c9cd"/><circle cx="1620.6" cy="373.4" r="0.8" fill="#2a2a2e"/><rect x="1626.02" y="364.6" width="5.6" height="4.8" rx="1" fill="#111113"/><circle cx="1628.82" cy="373.4" r="1.7" fill="#c9c9cd"/><circle cx="1628.82" cy="373.4" r="0.8" fill="#2a2a2e"/><rect x="1634.24" y="364.6" width="5.6" height="4.8" rx="1" fill="#111113"/><circle cx="1637.04" cy="373.4" r="1.7" fill="#c9c9cd"/><circle cx="1637.04" cy="373.4" r="0.8" fill="#2a2a2e"/><rect x="1642.46" y="364.6" width="5.6" height="4.8" rx="1" fill="#111113"/><circle cx="1645.26" cy="373.4" r="1.7" fill="#c9c9cd"/><circle cx="1645.26" cy="373.4" r="0.8" fill="#2a2a2e"/><rect x="1650.68" y="364.6" width="5.6" height="4.8" rx="1" fill="#111113"/><circle cx="1653.48" cy="373.4" r="1.7" fill="#c9c9cd"/><circle cx="1653.48" cy="373.4" r="0.8" fill="#2a2a2e"/><rect x="1658.9" y="364.6" width="5.6" height="4.8" rx="1" fill="#111113"/><circle cx="1661.7" cy="373.4" r="1.7" fill="#c9c9cd"/><circle cx="1661.7" cy="373.4" r="0.8" fill="#2a2a2e"/><rect x="1667.12" y="364.6" width="5.6" height="4.8" rx="1" fill="#111113"/><circle cx="1669.92" cy="373.4" r="1.7" fill="#c9c9cd"/><circle cx="1669.92" cy="373.4" r="0.8" fill="#2a2a2e"/><rect x="1675.34" y="364.6" width="5.6" height="4.8" rx="1" fill="#111113"/><circle cx="1678.14" cy="373.4" r="1.7" fill="#c9c9cd"/><circle cx="1678.14" cy="373.4" r="0.8" fill="#2a2a2e"/><rect x="1683.56" y="364.6" width="5.6" height="4.8" rx="1" fill="#111113"/><circle cx="1686.36" cy="373.4" r="1.7" fill="#c9c9cd"/><circle cx="1686.36" cy="373.4" r="0.8" fill="#2a2a2e"/><rect x="1691.78" y="364.6" width="5.6" height="4.8" rx="1" fill="#111113"/><circle cx="1694.58" cy="373.4" r="1.7" fill="#c9c9cd"/><circle cx="1694.58" cy="373.4" r="0.8" fill="#2a2a2e"/><rect x="1700" y="364.6" width="5.6" height="4.8" rx="1" fill="#111113"/><circle cx="1702.8" cy="373.4" r="1.7" fill="#c9c9cd"/><circle cx="1702.8" cy="373.4" r="0.8" fill="#2a2a2e"/><rect x="1708.22" y="364.6" width="5.6" height="4.8" rx="1" fill="#111113"/><circle cx="1711.02" cy="373.4" r="1.7" fill="#c9c9cd"/><circle cx="1711.02" cy="373.4" r="0.8" fill="#2a2a2e"/><rect x="1716.44" y="364.6" width="5.6" height="4.8" rx="1" fill="#111113"/><circle cx="1719.24" cy="373.4" r="1.7" fill="#c9c9cd"/><circle cx="1719.24" cy="373.4" r="0.8" fill="#2a2a2e"/><rect x="1724.66" y="364.6" width="5.6" height="4.8" rx="1" fill="#111113"/><circle cx="1727.46" cy="373.4" r="1.7" fill="#c9c9cd"/><circle cx="1727.46" cy="373.4" r="0.8" fill="#2a2a2e"/><circle cx="1735" cy="371.6" r="1.5" fill="#d4d4d8"/><circle cx="1735" cy="371.6" r="0.7" fill="#222"/><circle cx="1735" cy="375.4" r="1.3" fill="#c4c4c8"/><circle cx="1741.5" cy="371.6" r="1.5" fill="#d4d4d8"/><circle cx="1741.5" cy="371.6" r="0.7" fill="#222"/><circle cx="1741.5" cy="375.4" r="1.3" fill="#c4c4c8"/><circle cx="1748.5" cy="371.6" r="1.5" fill="#d4d4d8"/><circle cx="1748.5" cy="371.6" r="0.7" fill="#222"/><circle cx="1748.5" cy="375.4" r="1.3" fill="#c4c4c8"/><circle cx="1755.5" cy="371.6" r="1.5" fill="#d4d4d8"/><circle cx="1755.5" cy="371.6" r="0.7" fill="#222"/><circle cx="1755.5" cy="375.4" r="1.3" fill="#c4c4c8"/><rect x="1745.5" y="364.6" width="5" height="4" fill="#0c0c0e"/><rect x="1753" y="364.6" width="5" height="4" fill="#0c0c0e"/><rect x="1735" y="364.4" width="1.6" height="1.6" fill="#d8d8dc"/><rect x="1739" y="364.4" width="1.6" height="1.6" fill="#d8d8dc"/><rect x="1735" y="367.2" width="1.6" height="1.6" fill="#c44"/><rect x="1739" y="367.2" width="1.6" height="1.6" fill="#c44"/><rect x="1614" y="380.4" width="148" height="62" fill="#2d2f33"/><rect x="1617.1" y="383.6" width="115.2" height="18.2" fill="#34383a"/><circle cx="1620.6" cy="385.8" r="1.5" fill="#16181a"/><rect x="1622.6" y="385.2" width="2" height="0.7" fill="#6e7478"/><circle cx="1628.82" cy="385.8" r="1.5" fill="#16181a"/><rect x="1630.82" y="385.2" width="2" height="0.7" fill="#6e7478"/><circle cx="1637.04" cy="385.8" r="1.5" fill="#16181a"/><rect x="1639.04" y="385.2" width="2" height="0.7" fill="#6e7478"/><circle cx="1645.26" cy="385.8" r="1.5" fill="#16181a"/><rect x="1647.26" y="385.2" width="2" height="0.7" fill="#6e7478"/><circle cx="1653.48" cy="385.8" r="1.5" fill="#16181a"/><rect x="1655.48" y="385.2" width="2" height="0.7" fill="#6e7478"/><circle cx="1661.7" cy="385.8" r="1.5" fill="#16181a"/><rect x="1663.7" y="385.2" width="2" height="0.7" fill="#6e7478"/><circle cx="1669.92" cy="385.8" r="1.5" fill="#16181a"/><rect x="1671.92" y="385.2" width="2" height="0.7" fill="#6e7478"/><circle cx="1678.14" cy="385.8" r="1.5" fill="#16181a"/><rect x="1680.14" y="385.2" width="2" height="0.7" fill="#6e7478"/><circle cx="1686.36" cy="385.8" r="1.5" fill="#16181a"/><rect x="1688.36" y="385.2" width="2" height="0.7" fill="#6e7478"/><circle cx="1694.58" cy="385.8" r="1.5" fill="#16181a"/><rect x="1696.58" y="385.2" width="2" height="0.7" fill="#6e7478"/><circle cx="1702.8" cy="385.8" r="1.5" fill="#16181a"/><rect x="1704.8" y="385.2" width="2" height="0.7" fill="#6e7478"/><circle cx="1711.02" cy="385.8" r="1.5" fill="#16181a"/><rect x="1713.02" y="385.2" width="2" height="0.7" fill="#6e7478"/><circle cx="1719.24" cy="385.8" r="1.5" fill="#16181a"/><rect x="1721.24" y="385.2" width="2" height="0.7" fill="#6e7478"/><circle cx="1727.46" cy="385.8" r="1.5" fill="#16181a"/><rect x="1729.46" y="385.2" width="2" height="0.7" fill="#6e7478"/><circle cx="1620.6" cy="390.2" r="1.5" fill="#16181a"/><rect x="1622.6" y="389.6" width="2" height="0.7" fill="#6e7478"/><circle cx="1628.82" cy="390.2" r="1.5" fill="#16181a"/><rect x="1630.82" y="389.6" width="2" height="0.7" fill="#6e7478"/><circle cx="1637.04" cy="390.2" r="1.5" fill="#16181a"/><rect x="1639.04" y="389.6" width="2" height="0.7" fill="#6e7478"/><circle cx="1645.26" cy="390.2" r="1.5" fill="#16181a"/><rect x="1647.26" y="389.6" width="2" height="0.7" fill="#6e7478"/><circle cx="1653.48" cy="390.2" r="1.5" fill="#16181a"/><rect x="1655.48" y="389.6" width="2" height="0.7" fill="#6e7478"/><circle cx="1661.7" cy="390.2" r="1.5" fill="#16181a"/><rect x="1663.7" y="389.6" width="2" height="0.7" fill="#6e7478"/><circle cx="1669.92" cy="390.2" r="1.5" fill="#16181a"/><rect x="1671.92" y="389.6" width="2" height="0.7" fill="#6e7478"/><circle cx="1678.14" cy="390.2" r="1.5" fill="#16181a"/><rect x="1680.14" y="389.6" width="2" height="0.7" fill="#6e7478"/><circle cx="1686.36" cy="390.2" r="1.5" fill="#16181a"/><rect x="1688.36" y="389.6" width="2" height="0.7" fill="#6e7478"/><circle cx="1694.58" cy="390.2" r="1.5" fill="#16181a"/><rect x="1696.58" y="389.6" width="2" height="0.7" fill="#6e7478"/><circle cx="1702.8" cy="390.2" r="1.5" fill="#16181a"/><rect x="1704.8" y="389.6" width="2" height="0.7" fill="#6e7478"/><circle cx="1711.02" cy="390.2" r="1.5" fill="#16181a"/><rect x="1713.02" y="389.6" width="2" height="0.7" fill="#6e7478"/><circle cx="1719.24" cy="390.2" r="1.5" fill="#16181a"/><rect x="1721.24" y="389.6" width="2" height="0.7" fill="#6e7478"/><circle cx="1727.46" cy="390.2" r="1.5" fill="#16181a"/><rect x="1729.46" y="389.6" width="2" height="0.7" fill="#6e7478"/><circle cx="1620.6" cy="394.6" r="1.5" fill="#16181a"/><rect x="1622.6" y="394" width="2" height="0.7" fill="#6e7478"/><circle cx="1628.82" cy="394.6" r="1.5" fill="#16181a"/><rect x="1630.82" y="394" width="2" height="0.7" fill="#6e7478"/><circle cx="1637.04" cy="394.6" r="1.5" fill="#16181a"/><rect x="1639.04" y="394" width="2" height="0.7" fill="#6e7478"/><circle cx="1645.26" cy="394.6" r="1.5" fill="#16181a"/><rect x="1647.26" y="394" width="2" height="0.7" fill="#6e7478"/><circle cx="1653.48" cy="394.6" r="1.5" fill="#16181a"/><rect x="1655.48" y="394" width="2" height="0.7" fill="#6e7478"/><circle cx="1661.7" cy="394.6" r="1.5" fill="#16181a"/><rect x="1663.7" y="394" width="2" height="0.7" fill="#6e7478"/><circle cx="1669.92" cy="394.6" r="1.5" fill="#16181a"/><rect x="1671.92" y="394" width="2" height="0.7" fill="#6e7478"/><circle cx="1678.14" cy="394.6" r="1.5" fill="#16181a"/><rect x="1680.14" y="394" width="2" height="0.7" fill="#6e7478"/><circle cx="1686.36" cy="394.6" r="1.5" fill="#16181a"/><rect x="1688.36" y="394" width="2" height="0.7" fill="#6e7478"/><circle cx="1694.58" cy="394.6" r="1.5" fill="#16181a"/><rect x="1696.58" y="394" width="2" height="0.7" fill="#6e7478"/><circle cx="1702.8" cy="394.6" r="1.5" fill="#16181a"/><rect x="1704.8" y="394" width="2" height="0.7" fill="#6e7478"/><circle cx="1711.02" cy="394.6" r="1.5" fill="#16181a"/><rect x="1713.02" y="394" width="2" height="0.7" fill="#6e7478"/><circle cx="1719.24" cy="394.6" r="1.5" fill="#16181a"/><rect x="1721.24" y="394" width="2" height="0.7" fill="#6e7478"/><circle cx="1727.46" cy="394.6" r="1.5" fill="#16181a"/><rect x="1729.46" y="394" width="2" height="0.7" fill="#6e7478"/><circle cx="1620.6" cy="399" r="1.5" fill="#16181a"/><rect x="1622.6" y="398.4" width="2" height="0.7" fill="#6e7478"/><circle cx="1628.82" cy="399" r="1.5" fill="#16181a"/><rect x="1630.82" y="398.4" width="2" height="0.7" fill="#6e7478"/><circle cx="1637.04" cy="399" r="1.5" fill="#16181a"/><rect x="1639.04" y="398.4" width="2" height="0.7" fill="#6e7478"/><circle cx="1645.26" cy="399" r="1.5" fill="#16181a"/><rect x="1647.26" y="398.4" width="2" height="0.7" fill="#6e7478"/><circle cx="1653.48" cy="399" r="1.5" fill="#16181a"/><rect x="1655.48" y="398.4" width="2" height="0.7" fill="#6e7478"/><circle cx="1661.7" cy="399" r="1.5" fill="#16181a"/><rect x="1663.7" y="398.4" width="2" height="0.7" fill="#6e7478"/><circle cx="1669.92" cy="399" r="1.5" fill="#16181a"/><rect x="1671.92" y="398.4" width="2" height="0.7" fill="#6e7478"/><circle cx="1678.14" cy="399" r="1.5" fill="#16181a"/><rect x="1680.14" y="398.4" width="2" height="0.7" fill="#6e7478"/><circle cx="1686.36" cy="399" r="1.5" fill="#16181a"/><rect x="1688.36" y="398.4" width="2" height="0.7" fill="#6e7478"/><circle cx="1694.58" cy="399" r="1.5" fill="#16181a"/><rect x="1696.58" y="398.4" width="2" height="0.7" fill="#6e7478"/><circle cx="1702.8" cy="399" r="1.5" fill="#16181a"/><rect x="1704.8" y="398.4" width="2" height="0.7" fill="#6e7478"/><circle cx="1711.02" cy="399" r="1.5" fill="#16181a"/><rect x="1713.02" y="398.4" width="2" height="0.7" fill="#6e7478"/><circle cx="1719.24" cy="399" r="1.5" fill="#16181a"/><rect x="1721.24" y="398.4" width="2" height="0.7" fill="#6e7478"/><circle cx="1727.46" cy="399" r="1.5" fill="#16181a"/><rect x="1729.46" y="398.4" width="2" height="0.7" fill="#6e7478"/><rect x="1617.1" y="401.9" width="115.2" height="10.8" fill="#7a69e2"/><ellipse cx="1620.6" cy="404.6" rx="1.9" ry="1.5" fill="#20203a"/><ellipse cx="1624.7" cy="407.2" rx="1.5" ry="1.1" fill="#36367a"/><ellipse cx="1628.82" cy="404.6" rx="1.9" ry="1.5" fill="#20203a"/><ellipse cx="1632.92" cy="407.2" rx="1.5" ry="1.1" fill="#36367a"/><ellipse cx="1637.04" cy="404.6" rx="1.9" ry="1.5" fill="#20203a"/><ellipse cx="1641.14" cy="407.2" rx="1.5" ry="1.1" fill="#36367a"/><ellipse cx="1645.26" cy="404.6" rx="1.9" ry="1.5" fill="#20203a"/><ellipse cx="1649.36" cy="407.2" rx="1.5" ry="1.1" fill="#36367a"/><ellipse cx="1653.48" cy="404.6" rx="1.9" ry="1.5" fill="#20203a"/><ellipse cx="1657.58" cy="407.2" rx="1.5" ry="1.1" fill="#36367a"/><ellipse cx="1661.7" cy="404.6" rx="1.9" ry="1.5" fill="#20203a"/><ellipse cx="1665.8" cy="407.2" rx="1.5" ry="1.1" fill="#36367a"/><ellipse cx="1669.92" cy="404.6" rx="1.9" ry="1.5" fill="#20203a"/><ellipse cx="1674.02" cy="407.2" rx="1.5" ry="1.1" fill="#36367a"/><ellipse cx="1678.14" cy="404.6" rx="1.9" ry="1.5" fill="#20203a"/><ellipse cx="1682.24" cy="407.2" rx="1.5" ry="1.1" fill="#36367a"/><ellipse cx="1686.36" cy="404.6" rx="1.9" ry="1.5" fill="#20203a"/><ellipse cx="1690.46" cy="407.2" rx="1.5" ry="1.1" fill="#36367a"/><ellipse cx="1694.58" cy="404.6" rx="1.9" ry="1.5" fill="#20203a"/><ellipse cx="1698.68" cy="407.2" rx="1.5" ry="1.1" fill="#36367a"/><ellipse cx="1702.8" cy="404.6" rx="1.9" ry="1.5" fill="#20203a"/><ellipse cx="1706.9" cy="407.2" rx="1.5" ry="1.1" fill="#36367a"/><ellipse cx="1711.02" cy="404.6" rx="1.9" ry="1.5" fill="#20203a"/><ellipse cx="1715.12" cy="407.2" rx="1.5" ry="1.1" fill="#36367a"/><ellipse cx="1719.24" cy="404.6" rx="1.9" ry="1.5" fill="#20203a"/><ellipse cx="1723.34" cy="407.2" rx="1.5" ry="1.1" fill="#36367a"/><ellipse cx="1727.46" cy="404.6" rx="1.9" ry="1.5" fill="#20203a"/><ellipse cx="1731.56" cy="407.2" rx="1.5" ry="1.1" fill="#36367a"/><ellipse cx="1620.6" cy="409.8" rx="1.9" ry="1.5" fill="#20203a"/><ellipse cx="1624.7" cy="407.2" rx="1.5" ry="1.1" fill="#36367a"/><ellipse cx="1628.82" cy="409.8" rx="1.9" ry="1.5" fill="#20203a"/><ellipse cx="1632.92" cy="407.2" rx="1.5" ry="1.1" fill="#36367a"/><ellipse cx="1637.04" cy="409.8" rx="1.9" ry="1.5" fill="#20203a"/><ellipse cx="1641.14" cy="407.2" rx="1.5" ry="1.1" fill="#36367a"/><ellipse cx="1645.26" cy="409.8" rx="1.9" ry="1.5" fill="#20203a"/><ellipse cx="1649.36" cy="407.2" rx="1.5" ry="1.1" fill="#36367a"/><ellipse cx="1653.48" cy="409.8" rx="1.9" ry="1.5" fill="#20203a"/><ellipse cx="1657.58" cy="407.2" rx="1.5" ry="1.1" fill="#36367a"/><ellipse cx="1661.7" cy="409.8" rx="1.9" ry="1.5" fill="#20203a"/><ellipse cx="1665.8" cy="407.2" rx="1.5" ry="1.1" fill="#36367a"/><ellipse cx="1669.92" cy="409.8" rx="1.9" ry="1.5" fill="#20203a"/><ellipse cx="1674.02" cy="407.2" rx="1.5" ry="1.1" fill="#36367a"/><ellipse cx="1678.14" cy="409.8" rx="1.9" ry="1.5" fill="#20203a"/><ellipse cx="1682.24" cy="407.2" rx="1.5" ry="1.1" fill="#36367a"/><ellipse cx="1686.36" cy="409.8" rx="1.9" ry="1.5" fill="#20203a"/><ellipse cx="1690.46" cy="407.2" rx="1.5" ry="1.1" fill="#36367a"/><ellipse cx="1694.58" cy="409.8" rx="1.9" ry="1.5" fill="#20203a"/><ellipse cx="1698.68" cy="407.2" rx="1.5" ry="1.1" fill="#36367a"/><ellipse cx="1702.8" cy="409.8" rx="1.9" ry="1.5" fill="#20203a"/><ellipse cx="1706.9" cy="407.2" rx="1.5" ry="1.1" fill="#36367a"/><ellipse cx="1711.02" cy="409.8" rx="1.9" ry="1.5" fill="#20203a"/><ellipse cx="1715.12" cy="407.2" rx="1.5" ry="1.1" fill="#36367a"/><ellipse cx="1719.24" cy="409.8" rx="1.9" ry="1.5" fill="#20203a"/><ellipse cx="1723.34" cy="407.2" rx="1.5" ry="1.1" fill="#36367a"/><ellipse cx="1727.46" cy="409.8" rx="1.9" ry="1.5" fill="#20203a"/><ellipse cx="1731.56" cy="407.2" rx="1.5" ry="1.1" fill="#36367a"/><rect x="1617.1" y="412.7" width="115.2" height="8.1" fill="#2a2c30"/><circle cx="1620.6" cy="415.2" r="1.4" fill="#121316"/><rect x="1618.8" y="418.6" width="3.6" height="1.3" fill="#d0d0d4"/><circle cx="1628.82" cy="415.2" r="1.4" fill="#121316"/><rect x="1627.02" y="418.6" width="3.6" height="1.3" fill="#d0d0d4"/><circle cx="1637.04" cy="415.2" r="1.4" fill="#121316"/><rect x="1635.24" y="418.6" width="3.6" height="1.3" fill="#d0d0d4"/><circle cx="1645.26" cy="415.2" r="1.4" fill="#121316"/><rect x="1643.46" y="418.6" width="3.6" height="1.3" fill="#d0d0d4"/><circle cx="1653.48" cy="415.2" r="1.4" fill="#121316"/><rect x="1651.68" y="418.6" width="3.6" height="1.3" fill="#d0d0d4"/><circle cx="1661.7" cy="415.2" r="1.4" fill="#121316"/><rect x="1659.9" y="418.6" width="3.6" height="1.3" fill="#d0d0d4"/><circle cx="1669.92" cy="415.2" r="1.4" fill="#121316"/><rect x="1668.12" y="418.6" width="3.6" height="1.3" fill="#d0d0d4"/><circle cx="1678.14" cy="415.2" r="1.4" fill="#121316"/><rect x="1676.34" y="418.6" width="3.6" height="1.3" fill="#d0d0d4"/><circle cx="1686.36" cy="415.2" r="1.4" fill="#121316"/><rect x="1684.56" y="418.6" width="3.6" height="1.3" fill="#d0d0d4"/><circle cx="1694.58" cy="415.2" r="1.4" fill="#121316"/><rect x="1692.78" y="418.6" width="3.6" height="1.3" fill="#d0d0d4"/><circle cx="1702.8" cy="415.2" r="1.4" fill="#121316"/><rect x="1701" y="418.6" width="3.6" height="1.3" fill="#d0d0d4"/><circle cx="1711.02" cy="415.2" r="1.4" fill="#121316"/><rect x="1709.22" y="418.6" width="3.6" height="1.3" fill="#d0d0d4"/><circle cx="1719.24" cy="415.2" r="1.4" fill="#121316"/><rect x="1717.44" y="418.6" width="3.6" height="1.3" fill="#d0d0d4"/><circle cx="1727.46" cy="415.2" r="1.4" fill="#121316"/><rect x="1725.66" y="418.6" width="3.6" height="1.3" fill="#d0d0d4"/><rect x="1617.1" y="420.8" width="143.4" height="21" fill="#c4c4c9"/><rect x="1619.9" y="422.8" width="1.4" height="17.6" fill="#2e2e33"/><rect x="1623.2" y="423.4" width="2.6" height="0.8" fill="#b05a5a"/><rect x="1623.2" y="425.4" width="2.6" height="0.8" fill="#8a8a90"/><rect x="1623.2" y="427.4" width="2.6" height="0.8" fill="#b05a5a"/><rect x="1618.6" y="431.6" width="4" height="7.8" fill="#2b8fd0"/><rect x="1618.6" y="435" width="4" height="0.8" fill="#bfe2f6"/><rect x="1628.12" y="422.8" width="1.4" height="17.6" fill="#2e2e33"/><rect x="1631.42" y="423.4" width="2.6" height="0.8" fill="#b05a5a"/><rect x="1631.42" y="425.4" width="2.6" height="0.8" fill="#8a8a90"/><rect x="1631.42" y="427.4" width="2.6" height="0.8" fill="#b05a5a"/><rect x="1626.82" y="431.6" width="4" height="7.8" fill="#2b8fd0"/><rect x="1626.82" y="435" width="4" height="0.8" fill="#bfe2f6"/><rect x="1636.34" y="422.8" width="1.4" height="17.6" fill="#2e2e33"/><rect x="1639.64" y="423.4" width="2.6" height="0.8" fill="#b05a5a"/><rect x="1639.64" y="425.4" width="2.6" height="0.8" fill="#8a8a90"/><rect x="1639.64" y="427.4" width="2.6" height="0.8" fill="#b05a5a"/><rect x="1635.04" y="431.6" width="4" height="7.8" fill="#2b8fd0"/><rect x="1635.04" y="435" width="4" height="0.8" fill="#bfe2f6"/><rect x="1644.56" y="422.8" width="1.4" height="17.6" fill="#2e2e33"/><rect x="1647.86" y="423.4" width="2.6" height="0.8" fill="#b05a5a"/><rect x="1647.86" y="425.4" width="2.6" height="0.8" fill="#8a8a90"/><rect x="1647.86" y="427.4" width="2.6" height="0.8" fill="#b05a5a"/><rect x="1643.26" y="431.6" width="4" height="7.8" fill="#2b8fd0"/><rect x="1643.26" y="435" width="4" height="0.8" fill="#bfe2f6"/><rect x="1652.78" y="422.8" width="1.4" height="17.6" fill="#2e2e33"/><rect x="1656.08" y="423.4" width="2.6" height="0.8" fill="#b05a5a"/><rect x="1656.08" y="425.4" width="2.6" height="0.8" fill="#8a8a90"/><rect x="1656.08" y="427.4" width="2.6" height="0.8" fill="#b05a5a"/><rect x="1651.48" y="431.6" width="4" height="7.8" fill="#2b8fd0"/><rect x="1651.48" y="435" width="4" height="0.8" fill="#bfe2f6"/><rect x="1661" y="422.8" width="1.4" height="17.6" fill="#2e2e33"/><rect x="1664.3" y="423.4" width="2.6" height="0.8" fill="#b05a5a"/><rect x="1664.3" y="425.4" width="2.6" height="0.8" fill="#8a8a90"/><rect x="1664.3" y="427.4" width="2.6" height="0.8" fill="#b05a5a"/><rect x="1659.7" y="431.6" width="4" height="7.8" fill="#2b8fd0"/><rect x="1659.7" y="435" width="4" height="0.8" fill="#bfe2f6"/><rect x="1669.22" y="422.8" width="1.4" height="17.6" fill="#2e2e33"/><rect x="1672.52" y="423.4" width="2.6" height="0.8" fill="#b05a5a"/><rect x="1672.52" y="425.4" width="2.6" height="0.8" fill="#8a8a90"/><rect x="1672.52" y="427.4" width="2.6" height="0.8" fill="#b05a5a"/><rect x="1667.92" y="431.6" width="4" height="7.8" fill="#2b8fd0"/><rect x="1667.92" y="435" width="4" height="0.8" fill="#bfe2f6"/><rect x="1677.44" y="422.8" width="1.4" height="17.6" fill="#2e2e33"/><rect x="1680.74" y="423.4" width="2.6" height="0.8" fill="#b05a5a"/><rect x="1680.74" y="425.4" width="2.6" height="0.8" fill="#8a8a90"/><rect x="1680.74" y="427.4" width="2.6" height="0.8" fill="#b05a5a"/><rect x="1676.14" y="431.6" width="4" height="7.8" fill="#2b8fd0"/><rect x="1676.14" y="435" width="4" height="0.8" fill="#bfe2f6"/><rect x="1685.66" y="422.8" width="1.4" height="17.6" fill="#2e2e33"/><rect x="1688.96" y="423.4" width="2.6" height="0.8" fill="#b05a5a"/><rect x="1688.96" y="425.4" width="2.6" height="0.8" fill="#8a8a90"/><rect x="1688.96" y="427.4" width="2.6" height="0.8" fill="#b05a5a"/><rect x="1684.36" y="431.6" width="4" height="7.8" fill="#2b8fd0"/><rect x="1684.36" y="435" width="4" height="0.8" fill="#bfe2f6"/><rect x="1693.88" y="422.8" width="1.4" height="17.6" fill="#2e2e33"/><rect x="1697.18" y="423.4" width="2.6" height="0.8" fill="#b05a5a"/><rect x="1697.18" y="425.4" width="2.6" height="0.8" fill="#8a8a90"/><rect x="1697.18" y="427.4" width="2.6" height="0.8" fill="#b05a5a"/><rect x="1692.58" y="431.6" width="4" height="7.8" fill="#2b8fd0"/><rect x="1692.58" y="435" width="4" height="0.8" fill="#bfe2f6"/><rect x="1702.1" y="422.8" width="1.4" height="17.6" fill="#2e2e33"/><rect x="1705.4" y="423.4" width="2.6" height="0.8" fill="#b05a5a"/><rect x="1705.4" y="425.4" width="2.6" height="0.8" fill="#8a8a90"/><rect x="1705.4" y="427.4" width="2.6" height="0.8" fill="#b05a5a"/><rect x="1700.8" y="431.6" width="4" height="7.8" fill="#2b8fd0"/><rect x="1700.8" y="435" width="4" height="0.8" fill="#bfe2f6"/><rect x="1710.32" y="422.8" width="1.4" height="17.6" fill="#2e2e33"/><rect x="1713.62" y="423.4" width="2.6" height="0.8" fill="#b05a5a"/><rect x="1713.62" y="425.4" width="2.6" height="0.8" fill="#8a8a90"/><rect x="1713.62" y="427.4" width="2.6" height="0.8" fill="#b05a5a"/><rect x="1709.02" y="431.6" width="4" height="7.8" fill="#2b8fd0"/><rect x="1709.02" y="435" width="4" height="0.8" fill="#bfe2f6"/><rect x="1718.54" y="422.8" width="1.4" height="17.6" fill="#2e2e33"/><rect x="1721.84" y="423.4" width="2.6" height="0.8" fill="#b05a5a"/><rect x="1721.84" y="425.4" width="2.6" height="0.8" fill="#8a8a90"/><rect x="1721.84" y="427.4" width="2.6" height="0.8" fill="#b05a5a"/><rect x="1717.24" y="431.6" width="4" height="7.8" fill="#2b8fd0"/><rect x="1717.24" y="435" width="4" height="0.8" fill="#bfe2f6"/><rect x="1726.76" y="422.8" width="1.4" height="17.6" fill="#2e2e33"/><rect x="1730.06" y="423.4" width="2.6" height="0.8" fill="#b05a5a"/><rect x="1730.06" y="425.4" width="2.6" height="0.8" fill="#8a8a90"/><rect x="1730.06" y="427.4" width="2.6" height="0.8" fill="#b05a5a"/><rect x="1725.46" y="431.6" width="4" height="7.8" fill="#2b8fd0"/><rect x="1725.46" y="435" width="4" height="0.8" fill="#bfe2f6"/><rect x="1733.6" y="422.8" width="1.2" height="17.6" fill="#2e2e33"/><rect x="1732.3" y="433.4" width="3.8" height="5.4" fill="#e8c42c"/><rect x="1738.8" y="422.8" width="1.2" height="17.6" fill="#2e2e33"/><rect x="1737.5" y="433.4" width="3.8" height="5.4" fill="#e8c42c"/><rect x="1744.4" y="422.8" width="1.2" height="17.6" fill="#2e2e33"/><rect x="1743.1" y="433.4" width="3.8" height="5.4" fill="#c8282c"/><rect x="1749.2" y="422.8" width="1.2" height="17.6" fill="#2e2e33"/><rect x="1747.9" y="433.4" width="3.8" height="5.4" fill="#c8282c"/><rect x="1757.6" y="422.8" width="1.2" height="17.6" fill="#2e2e33"/><rect x="1756.3" y="434.6" width="3.8" height="4.6" fill="#eef0f4"/><rect x="1733.4" y="383.6" width="27.2" height="36.6" fill="#26262a"/><rect x="1736" y="384.6" width="1.3" height="6.4" fill="#0e0e10"/><rect x="1735.8" y="386.4" width="1.7" height="1.2" fill="#9a9aa0"/><rect x="1738.6" y="384.6" width="1.3" height="6.4" fill="#0e0e10"/><rect x="1738.4" y="387.2" width="1.7" height="1.2" fill="#9a9aa0"/><rect x="1741.2" y="384.6" width="1.3" height="6.4" fill="#0e0e10"/><rect x="1741" y="388" width="1.7" height="1.2" fill="#9a9aa0"/><rect x="1743.8" y="384.6" width="1.3" height="6.4" fill="#0e0e10"/><rect x="1743.6" y="386.4" width="1.7" height="1.2" fill="#9a9aa0"/><rect x="1746.4" y="384.6" width="1.3" height="6.4" fill="#0e0e10"/><rect x="1746.2" y="387.2" width="1.7" height="1.2" fill="#9a9aa0"/><rect x="1749" y="384.6" width="1.3" height="6.4" fill="#0e0e10"/><rect x="1748.8" y="388" width="1.7" height="1.2" fill="#9a9aa0"/><rect x="1751.6" y="384.6" width="1.3" height="6.4" fill="#0e0e10"/><rect x="1751.4" y="386.4" width="1.7" height="1.2" fill="#9a9aa0"/><rect x="1754.2" y="384.6" width="1.3" height="6.4" fill="#0e0e10"/><rect x="1754" y="387.2" width="1.7" height="1.2" fill="#9a9aa0"/><rect x="1756.8" y="384.6" width="1.3" height="6.4" fill="#0e0e10"/><rect x="1756.6" y="388" width="1.7" height="1.2" fill="#9a9aa0"/><rect x="1744.6" y="394" width="13" height="1.4" fill="#7a7a80"/><rect x="1749" y="400.6" width="10" height="5.4" fill="#4a4a50"/><circle cx="1755.5" cy="410.6" r="2.6" fill="#0c0c0e"/><circle cx="1755.5" cy="410.6" r="2.6" fill="none" stroke="#6a6a70" stroke-width="0.6"/><circle cx="1737.6" cy="398" r="1.2" fill="#141416"/><circle cx="1742.6" cy="398" r="1.2" fill="#141416"/><circle cx="1737.6" cy="402.5" r="1.2" fill="#141416"/><circle cx="1742.6" cy="402.5" r="1.2" fill="#141416"/><circle cx="1737.6" cy="407" r="1.2" fill="#141416"/><circle cx="1742.6" cy="407" r="1.2" fill="#141416"/><circle cx="1737.6" cy="411.5" r="1.2" fill="#141416"/><circle cx="1742.6" cy="411.5" r="1.2" fill="#141416"/><circle cx="1737.6" cy="416" r="1.2" fill="#141416"/><circle cx="1742.6" cy="416" r="1.2" fill="#141416"/><rect x="1718.6" y="383.4" width="2.8" height="2.8" fill="#f0f0f4"/>
<polygon points="1432,507.5 1601,507.5 1603,508.9 1430,508.9" fill="#1a1a1c"/><rect x="1426.5" y="508.7" width="180.5" height="13.4" fill="#0b0b0d"/><rect x="1428.4" y="511.2" width="2.8" height="1.4" rx="0.7" fill="#f0f0f0"/><rect x="1428.4" y="519.4" width="2.8" height="1.4" rx="0.7" fill="#f0f0f0"/><rect x="1602.2" y="511.2" width="2.8" height="1.4" rx="0.7" fill="#f0f0f0"/><rect x="1602.2" y="519.4" width="2.8" height="1.4" rx="0.7" fill="#f0f0f0"/><rect x="1431.4" y="514.6" width="1.6" height="2.2" fill="#d0d0d0"/><rect x="1438.8" y="513.1" width="1.2" height="1" fill="#5e5e64"/><rect x="1441.3" y="513.1" width="1.2" height="1" fill="#5e5e64"/><rect x="1443.8" y="513.1" width="1.2" height="1" fill="#5e5e64"/><rect x="1446.3" y="513.1" width="1.2" height="1" fill="#5e5e64"/><rect x="1448.8" y="513.1" width="1.2" height="1" fill="#5e5e64"/><rect x="1451.3" y="513.1" width="1.2" height="1" fill="#5e5e64"/><rect x="1453.8" y="513.1" width="1.2" height="1" fill="#5e5e64"/><rect x="1456.3" y="513.1" width="1.2" height="1" fill="#5e5e64"/><rect x="1458.8" y="513.1" width="1.2" height="1" fill="#5e5e64"/><rect x="1461.3" y="513.1" width="1.2" height="1" fill="#5e5e64"/><rect x="1463.8" y="513.1" width="1.2" height="1" fill="#5e5e64"/><rect x="1466.3" y="513.1" width="1.2" height="1" fill="#8e8e94"/><rect x="1468.8" y="513.1" width="1.2" height="1" fill="#8e8e94"/><rect x="1471.3" y="513.1" width="1.2" height="1" fill="#8e8e94"/><rect x="1473.8" y="513.1" width="1.2" height="1" fill="#8e8e94"/><rect x="1476.3" y="513.1" width="1.2" height="1" fill="#8e8e94"/><rect x="1478.8" y="513.1" width="1.2" height="1" fill="#8e8e94"/><rect x="1481.3" y="513.1" width="1.2" height="1" fill="#8e8e94"/><rect x="1483.8" y="513.1" width="1.2" height="1" fill="#8e8e94"/><rect x="1486.3" y="513.1" width="1.2" height="1" fill="#8e8e94"/><rect x="1488.8" y="513.1" width="1.2" height="1" fill="#8e8e94"/><rect x="1491.3" y="513.1" width="1.2" height="1" fill="#8e8e94"/><rect x="1493.8" y="513.1" width="1.2" height="1" fill="#8e8e94"/><rect x="1466.5" y="512" width="0.7" height="3.2" fill="#9a9aa0"/><rect x="1438.8" y="517.7" width="1.2" height="1" fill="#5e5e64"/><rect x="1441.3" y="517.7" width="1.2" height="1" fill="#5e5e64"/><rect x="1443.8" y="517.7" width="1.2" height="1" fill="#5e5e64"/><rect x="1446.3" y="517.7" width="1.2" height="1" fill="#5e5e64"/><rect x="1448.8" y="517.7" width="1.2" height="1" fill="#5e5e64"/><rect x="1451.3" y="517.7" width="1.2" height="1" fill="#5e5e64"/><rect x="1453.8" y="517.7" width="1.2" height="1" fill="#5e5e64"/><rect x="1456.3" y="517.7" width="1.2" height="1" fill="#5e5e64"/><rect x="1458.8" y="517.7" width="1.2" height="1" fill="#5e5e64"/><rect x="1461.3" y="517.7" width="1.2" height="1" fill="#5e5e64"/><rect x="1463.8" y="517.7" width="1.2" height="1" fill="#5e5e64"/><rect x="1466.3" y="517.7" width="1.2" height="1" fill="#8e8e94"/><rect x="1468.8" y="517.7" width="1.2" height="1" fill="#8e8e94"/><rect x="1471.3" y="517.7" width="1.2" height="1" fill="#8e8e94"/><rect x="1473.8" y="517.7" width="1.2" height="1" fill="#8e8e94"/><rect x="1476.3" y="517.7" width="1.2" height="1" fill="#8e8e94"/><rect x="1478.8" y="517.7" width="1.2" height="1" fill="#8e8e94"/><rect x="1481.3" y="517.7" width="1.2" height="1" fill="#8e8e94"/><rect x="1483.8" y="517.7" width="1.2" height="1" fill="#8e8e94"/><rect x="1486.3" y="517.7" width="1.2" height="1" fill="#8e8e94"/><rect x="1488.8" y="517.7" width="1.2" height="1" fill="#8e8e94"/><rect x="1491.3" y="517.7" width="1.2" height="1" fill="#8e8e94"/><rect x="1493.8" y="517.7" width="1.2" height="1" fill="#8e8e94"/><rect x="1466.5" y="516.6" width="0.7" height="3.2" fill="#9a9aa0"/><rect x="1500.6" y="511.8" width="3" height="1.7" fill="#b4b4ba"/><rect x="1500.6" y="515" width="3" height="1.7" fill="#b4b4ba"/><rect x="1500.6" y="518.2" width="3" height="1.7" fill="#b4b4ba"/><rect x="1509.4" y="511.6" width="28.2" height="8.4" fill="#66666c"/><rect x="1511.2" y="513" width="24.7" height="5.6" fill="#2433ee"/><rect x="1514" y="514.6" width="8" height="1" fill="#8aa0ff"/><rect x="1524" y="514.6" width="8" height="1" fill="#8aa0ff"/><rect x="1516" y="516.6" width="14" height="0.8" fill="#6a84ff"/><polygon points="1544,517 1555,517 1557.4,521 1541.6,521" fill="#9a9aa0"/><circle cx="1549.5" cy="515.6" r="5" fill="#a6a6ac"/><circle cx="1549.5" cy="515.6" r="3.7" fill="#1a1a1e"/><circle cx="1549.5" cy="514.6" r="1.6" fill="#4a4a50"/><rect x="1566" y="513" width="3.4" height="0.8" fill="#3a3a40"/><rect x="1566" y="517.4" width="3.4" height="0.8" fill="#34343a"/><rect x="1573" y="513" width="3.4" height="0.8" fill="#3a3a40"/><rect x="1573" y="517.4" width="3.4" height="0.8" fill="#34343a"/><rect x="1580" y="513" width="3.4" height="0.8" fill="#3a3a40"/><rect x="1580" y="517.4" width="3.4" height="0.8" fill="#34343a"/><rect x="1587" y="513" width="3.4" height="0.8" fill="#3a3a40"/><rect x="1587" y="517.4" width="3.4" height="0.8" fill="#34343a"/><rect x="1434.1" y="523.7" width="165.7" height="12" fill="#1b1b1d"/><rect x="1434.1" y="523.7" width="165.7" height="0.8" fill="#3c3c40"/><rect x="1440.5" y="528.4" width="9" height="4.6" fill="#08080a"/><rect x="1451.6" y="531.6" width="14.8" height="2.2" fill="#85858c"/><rect x="1455" y="526" width="4" height="1.6" fill="#6a6a70"/><rect x="1463" y="526.4" width="2.6" height="1.6" fill="#7a7a80"/><rect x="1471.6" y="525.8" width="14" height="1.2" fill="#4a4a50"/><rect x="1489.5" y="527.2" width="6.4" height="4.8" rx="1.2" fill="#0a0a0a"/><path d="M1490.7 528.4L1492.7 531L1494.7 528.4" fill="none" stroke="#8a6a2a" stroke-width="0.8"/><rect x="1501.5" y="527.2" width="6.4" height="4.8" rx="1.2" fill="#0a0a0a"/><path d="M1502.7 528.4L1504.7 531L1506.7 528.4" fill="none" stroke="#8a6a2a" stroke-width="0.8"/><rect x="1515.2" y="527.2" width="6.4" height="4.8" rx="1.2" fill="#0a0a0a"/><path d="M1516.4 528.4L1518.4 531L1520.4 528.4" fill="none" stroke="#8a6a2a" stroke-width="0.8"/><rect x="1525.8" y="529.4" width="2.8" height="2.2" fill="#f4f4f4"/><circle cx="1534.2" cy="528" r="1.6" fill="#8a4a3a"/><circle cx="1534.2" cy="532.4" r="1.4" fill="#6a3a2e"/><circle cx="1548.5" cy="529.8" r="2.7" fill="#2e2e32"/><circle cx="1548.5" cy="529.8" r="1.5" fill="#141416"/><circle cx="1573" cy="529.8" r="2.7" fill="#2e2e32"/><circle cx="1573" cy="529.8" r="1.5" fill="#141416"/><circle cx="1584.5" cy="529.8" r="2.7" fill="#2e2e32"/><circle cx="1584.5" cy="529.8" r="1.5" fill="#141416"/><rect x="1559" y="526.6" width="6" height="3.6" fill="#2c2c30"/>
<rect x="1594.3" y="585.6" width="176.6" height="10" fill="url(#ash)" opacity="0.6"/><polygon points="1616.7,552.2 1749.1,552.2 1764.4,562 1602.5,562" fill="#323236"/><ellipse cx="1717.6" cy="557.6" rx="5.6" ry="1.3" fill="#222226"/><rect x="1594.3" y="561.9" width="176.6" height="24" fill="#2b2b2f"/><rect x="1602.5" y="561.9" width="161.9" height="24" fill="#1d1d21"/><rect x="1602.5" y="561.9" width="161.9" height="0.8" fill="#4a4a50"/><rect x="1595.6" y="562.9" width="3" height="1.4" rx="0.7" fill="#f2f2f2"/><rect x="1595.6" y="583.8" width="3" height="1.4" rx="0.7" fill="#f2f2f2"/><rect x="1765.8" y="562.9" width="3" height="1.4" rx="0.7" fill="#f2f2f2"/><rect x="1765.8" y="583.8" width="3" height="1.4" rx="0.7" fill="#f2f2f2"/><rect x="1603" y="565.6" width="6.4" height="18.2" rx="1.6" fill="#131315"/><rect x="1603.6" y="566.4" width="0.8" height="16.6" fill="#4c4c52"/><rect x="1755.4" y="565.6" width="6.4" height="18.2" rx="1.6" fill="#131315"/><rect x="1756" y="566.4" width="0.8" height="16.6" fill="#4c4c52"/><rect x="1611.2" y="564.6" width="19.7" height="20.2" fill="url(#grl)"/><rect x="1633.7" y="564.6" width="17.5" height="20.2" fill="url(#grl)"/><rect x="1715.2" y="564.6" width="16.4" height="20.2" fill="url(#grl)"/><rect x="1734.3" y="564.6" width="18" height="20.2" fill="url(#grl)"/><rect x="1652.6" y="564.6" width="8" height="20.2" fill="url(#grl)" opacity="0.6"/><rect x="1705" y="564.6" width="9" height="20.2" fill="url(#grl)" opacity="0.6"/><rect x="1661.6" y="564.6" width="42.1" height="19.8" fill="#08080a"/><rect x="1667" y="566.8" width="3.9" height="5.5" fill="#e8e8ec"/><rect x="1667.8" y="570.4" width="2.3" height="1.2" fill="#333"/><rect x="1676.9" y="567" width="8.7" height="3" fill="#5c5c64"/><rect x="1690" y="568.2" width="12.6" height="1.5" fill="#d0d0d4"/><rect x="1681" y="571.6" width="4.4" height="1.4" fill="#dcdce0"/><rect x="1681" y="574.1" width="4.4" height="1.4" fill="#dcdce0"/><rect x="1681" y="576.6" width="4.4" height="1.4" fill="#dcdce0"/><rect x="1681" y="579.1" width="4.4" height="1.4" fill="#3a7ae0"/><rect x="1681" y="581.6" width="4.4" height="1.4" fill="#3a7ae0"/><circle cx="1670.9" cy="580.6" r="2.9" fill="#2a2a2e"/><circle cx="1670.9" cy="580.6" r="2.9" fill="none" stroke="#6a6a70" stroke-width="0.6"/><circle cx="1670.9" cy="580.6" r="1.1" fill="#0a0a0c"/><circle cx="1693.3" cy="580.6" r="2.9" fill="#2a2a2e"/><circle cx="1693.3" cy="580.6" r="2.9" fill="none" stroke="#6a6a70" stroke-width="0.6"/><circle cx="1693.3" cy="580.6" r="1.1" fill="#0a0a0c"/>
<polygon points="1201,569.2 1338.3,569.2 1362,583.2 1184,583.2" fill="#3a3a3f"/><polygon points="1201,569.2 1338.3,569.2 1339.5,570 1199.8,570" fill="#55555a"/><rect x="1176.1" y="583.1" width="193.5" height="27.7" rx="1.2" fill="url(#hostf)"/><rect x="1184" y="583.1" width="178" height="0.9" fill="#8c8c92"/><rect x="1178" y="584.6" width="3.2" height="1.5" rx="0.7" fill="#f4f4f4"/><rect x="1178" y="607.6" width="3.2" height="1.5" rx="0.7" fill="#f4f4f4"/><rect x="1364.6" y="584.6" width="3.2" height="1.5" rx="0.7" fill="#f4f4f4"/><rect x="1364.6" y="607.6" width="3.2" height="1.5" rx="0.7" fill="#f4f4f4"/><rect x="1190" y="588" width="6" height="19.8" fill="url(#hnd)"/><rect x="1189.4" y="606.6" width="7.2" height="1.6" fill="#4e4e54"/><rect x="1351.6" y="588" width="6" height="19.8" fill="url(#hnd)"/><rect x="1351" y="606.6" width="7.2" height="1.6" fill="#4e4e54"/><rect x="1208" y="586" width="44.8" height="21.2" fill="#56565c"/><rect x="1208" y="586" width="44.8" height="21.2" fill="none" stroke="#44444a" stroke-width="0.7"/><rect x="1214" y="588.8" width="32" height="15.6" fill="#3c3c44"/><rect x="1215" y="589.6" width="30" height="14" fill="#2a3ce4"/><rect x="1217" y="591.6" width="16" height="1.5" fill="#93a4ff"/><rect x="1217" y="595.4" width="13" height="1.5" fill="#93a4ff"/><rect x="1217" y="599.2" width="15" height="1.5" fill="#93a4ff"/><circle cx="1262" cy="589.9" r="1.4" fill="#1a1a1e"/><rect x="1265.6" y="588.8" width="11" height="2.2" fill="#d6d6da"/><circle cx="1262" cy="594.5" r="1.4" fill="#1a1a1e"/><rect x="1265.6" y="593.4" width="11" height="2.2" fill="#d6d6da"/><circle cx="1262" cy="599.1" r="1.4" fill="#1a1a1e"/><rect x="1265.6" y="598" width="11" height="2.2" fill="#d6d6da"/><circle cx="1262" cy="603.7" r="1.4" fill="#1a1a1e"/><rect x="1265.6" y="602.6" width="11" height="2.2" fill="#d6d6da"/><rect x="1282" y="592.6" width="46" height="0.9" fill="#96969c"/><circle cx="1289" cy="601.2" r="5" fill="#3a3a40"/><circle cx="1289" cy="601.2" r="3.5" fill="#141416"/><circle cx="1289" cy="601.2" r="5" fill="none" stroke="#a0a0a6" stroke-width="0.6"/><circle cx="1303" cy="601.2" r="5" fill="#3a3a40"/><circle cx="1303" cy="601.2" r="3.5" fill="#141416"/><circle cx="1303" cy="601.2" r="5" fill="none" stroke="#a0a0a6" stroke-width="0.6"/><circle cx="1316.6" cy="601.2" r="5" fill="#3a3a40"/><circle cx="1316.6" cy="601.2" r="3.5" fill="#141416"/><circle cx="1316.6" cy="601.2" r="5" fill="none" stroke="#a0a0a6" stroke-width="0.6"/><rect x="1337.4" y="595.4" width="4.2" height="9" fill="#0e0e10"/><rect x="1338.2" y="596.4" width="2.6" height="3.4" fill="#3a3a40"/>
<use href="#spk"/>
<use href="#spk" x="171"/>
<text x="853.36" y="303.77" font-size="11.6" font-weight="500" fill="#1a1a1a" textLength="64.08" lengthAdjust="spacingAndGlyphs">触控平板</text>
<text x="1091.55" y="234.17" font-size="11.6" font-weight="500" fill="#1a1a1a" textLength="48.8" lengthAdjust="spacingAndGlyphs">路由器</text>
<text x="1291.87" y="215.57" font-size="11.6" font-weight="500" fill="#1a1a1a" textLength="142.26" lengthAdjust="spacingAndGlyphs">高清视讯跟踪摄像头</text>
<text x="1621.87" y="315.57" font-size="11.6" font-weight="500" fill="#1a1a1a" textLength="46.95" lengthAdjust="spacingAndGlyphs">拼接屏</text>
<text x="795.36" y="400.57" font-size="11.6" font-weight="500" fill="#1a1a1a" textLength="143.58" lengthAdjust="spacingAndGlyphs">无纸化流媒体服务器</text>
<text x="1148.78" y="451.57" font-size="11.6" font-weight="500" fill="#1a1a1a" textLength="62.45" lengthAdjust="spacingAndGlyphs">中控主机</text>
<text x="1382.26" y="453.77" font-size="11.6" font-weight="500" fill="#1a1a1a" textLength="80.08" lengthAdjust="spacingAndGlyphs">高清无缝混</text>
<text x="1382.27" y="468.17" font-size="11.6" font-weight="500" fill="#1a1a1a" textLength="47.57" lengthAdjust="spacingAndGlyphs">插矩阵</text>
<text x="1669.86" y="462.07" font-size="11.6" font-weight="500" fill="#1a1a1a" textLength="47.98" lengthAdjust="spacingAndGlyphs">调音台</text>
<text x="1401.06" y="553.87" font-size="11.6" font-weight="500" fill="#1a1a1a" textLength="79.57" lengthAdjust="spacingAndGlyphs">反馈抑制器</text>
<text x="1705.16" y="611.17" font-size="11.6" font-weight="500" fill="#1a1a1a" textLength="80.49" lengthAdjust="spacingAndGlyphs">功率放大器</text>
<text x="1234.07" y="629.37" font-size="11.6" font-weight="500" fill="#1a1a1a" textLength="94.56" lengthAdjust="spacingAndGlyphs">会议系统主机</text>
<text x="639.36" y="690.57" font-size="11.6" font-weight="500" fill="#1a1a1a" textLength="143.98" lengthAdjust="spacingAndGlyphs">升降机触摸一体终端</text>
<text x="873.77" y="713.17" font-size="11.6" font-weight="500" fill="#1a1a1a" textLength="126.57" lengthAdjust="spacingAndGlyphs">无纸化会议服务器</text>
<text x="1559.97" y="802.47" font-size="11.6" font-weight="500" fill="#1a1a1a" textLength="63.16" lengthAdjust="spacingAndGlyphs">全频音箱</text>
<text x="1730.37" y="802.47" font-size="11.6" font-weight="500" fill="#1a1a1a" textLength="63.06" lengthAdjust="spacingAndGlyphs">全频音箱</text>
<text x="131.14" y="760.67" font-size="17.3" font-weight="700" fill="#111" textLength="144.53" lengthAdjust="spacingAndGlyphs">方案核心优势</text>
<text x="278.6" y="762" font-size="17" fill="#222">:</text>
<text y="785.4" font-size="13.9" fill="#111" xml:space="preserve"><tspan x="133.8" textLength="9.85" lengthAdjust="spacingAndGlyphs" style="font-family:'Liberation Mono',monospace">1</tspan><tspan x="143.95" textLength="104.5" lengthAdjust="spacingAndGlyphs">、系统支持</tspan><tspan x="248.75" textLength="72.55" lengthAdjust="spacingAndGlyphs" style="font-family:'Liberation Mono',monospace">windows</tspan><tspan x="321.6" textLength="20.9" lengthAdjust="spacingAndGlyphs">、</tspan><tspan x="342.8" textLength="72.55" lengthAdjust="spacingAndGlyphs" style="font-family:'Liberation Mono',monospace">Android</tspan><tspan x="415.65" textLength="20.9" lengthAdjust="spacingAndGlyphs">、</tspan><tspan x="436.55"> </tspan><tspan x="447.3" textLength="51.65" lengthAdjust="spacingAndGlyphs" style="font-family:'Liberation Mono',monospace">Linux</tspan><tspan x="499.25" textLength="20.9" lengthAdjust="spacingAndGlyphs">等</tspan><tspan x="520.15"> </tspan><tspan x="530.6" textLength="83.6" lengthAdjust="spacingAndGlyphs">系统平台</tspan></text>
<text y="805.3" font-size="13.9" fill="#111" xml:space="preserve"><tspan x="133.8" textLength="9.9" lengthAdjust="spacingAndGlyphs" style="font-family:'Liberation Mono',monospace">2</tspan><tspan x="144" textLength="105" lengthAdjust="spacingAndGlyphs">、全面支持</tspan><tspan x="250.5" style="font-family:'Liberation Mono',monospace">”</tspan><tspan x="270" textLength="42" lengthAdjust="spacingAndGlyphs">信创</tspan><tspan x="324.5" style="font-family:'Liberation Mono',monospace">“</tspan><tspan x="333" textLength="84" lengthAdjust="spacingAndGlyphs">建设方案</tspan><tspan x="417.3" textLength="9.9" lengthAdjust="spacingAndGlyphs" style="font-family:'Liberation Mono',monospace">:</tspan><tspan x="427.5" textLength="252" lengthAdjust="spacingAndGlyphs">龙芯、兆芯等国产硬件平台</tspan><tspan x="679.8" textLength="9.9" lengthAdjust="spacingAndGlyphs" style="font-family:'Liberation Mono',monospace">+</tspan><tspan x="690" textLength="105" lengthAdjust="spacingAndGlyphs">中标麒麟、</tspan><tspan x="795.3" textLength="30.9" lengthAdjust="spacingAndGlyphs" style="font-family:'Liberation Mono',monospace">UOS</tspan><tspan x="826.5" textLength="252" lengthAdjust="spacingAndGlyphs">、银河麒麟等国产系统平台</tspan></text>
</svg></body></html>
